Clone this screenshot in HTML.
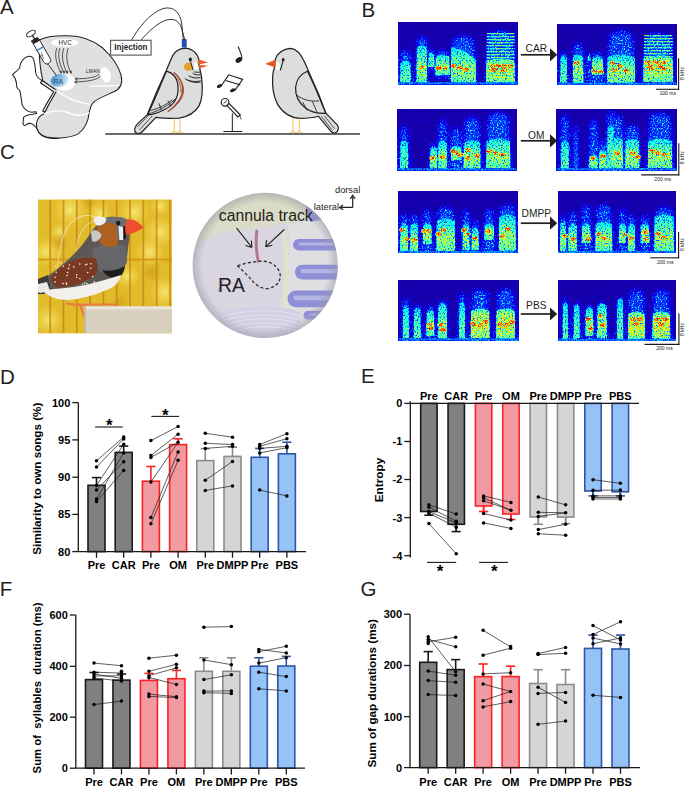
<!DOCTYPE html><html><head><meta charset="utf-8"><style>html,body{margin:0;padding:0;background:#fff;}svg{display:block;}text{font-family:"Liberation Sans",sans-serif;}</style></head><body>
<svg width="685" height="787" viewBox="0 0 685 787">
<defs><filter id="bl05" x="-50%" y="-50%" width="200%" height="200%"><feGaussianBlur stdDeviation="0.6"/></filter><filter id="bl1" x="-50%" y="-50%" width="200%" height="200%"><feGaussianBlur stdDeviation="1.1"/></filter><filter id="bl15" x="-50%" y="-50%" width="200%" height="200%"><feGaussianBlur stdDeviation="1.5"/></filter><filter id="bl2" x="-50%" y="-50%" width="200%" height="200%"><feGaussianBlur stdDeviation="2"/></filter><linearGradient id="gC" x1="0" y1="0" x2="0" y2="1"><stop offset="0" stop-color="#2a8cf0"/><stop offset="0.3" stop-color="#40d8f0"/><stop offset="1" stop-color="#58e8d8"/></linearGradient><linearGradient id="gY" x1="0" y1="0" x2="0" y2="1"><stop offset="0" stop-color="#30a8f0"/><stop offset="0.25" stop-color="#60e0d0"/><stop offset="0.5" stop-color="#c8f060"/><stop offset="0.8" stop-color="#80e8b0"/><stop offset="1" stop-color="#40d0e8"/></linearGradient><linearGradient id="gO" x1="0" y1="0" x2="0" y2="1"><stop offset="0" stop-color="#60d8c8"/><stop offset="0.3" stop-color="#e8e040"/><stop offset="0.6" stop-color="#f0a030"/><stop offset="0.85" stop-color="#c0e060"/><stop offset="1" stop-color="#40c8e8"/></linearGradient><linearGradient id="gH" x1="0" y1="0" x2="0" y2="1"><stop offset="0" stop-color="#50d0f0"/><stop offset="0.3" stop-color="#d8e050"/><stop offset="0.5" stop-color="#f0a030"/><stop offset="0.75" stop-color="#b0e070"/><stop offset="1" stop-color="#50d8e0"/></linearGradient><linearGradient id="iC" x1="0" y1="0" x2="0" y2="1"><stop offset="0" stop-color="#500000"/><stop offset="0.4" stop-color="#6c0000"/><stop offset="1" stop-color="#760000"/></linearGradient><linearGradient id="iY" x1="0" y1="0" x2="0" y2="1"><stop offset="0" stop-color="#550000"/><stop offset="0.35" stop-color="#740000"/><stop offset="0.6" stop-color="#880000"/><stop offset="1" stop-color="#730000"/></linearGradient><linearGradient id="iO" x1="0" y1="0" x2="0" y2="1"><stop offset="0" stop-color="#700000"/><stop offset="0.3" stop-color="#960000"/><stop offset="0.6" stop-color="#9c0000"/><stop offset="1" stop-color="#7a0000"/></linearGradient><linearGradient id="iH" x1="0" y1="0" x2="0" y2="1"><stop offset="0" stop-color="#680000"/><stop offset="0.3" stop-color="#900000"/><stop offset="0.55" stop-color="#9c0000"/><stop offset="1" stop-color="#760000"/></linearGradient></defs>
<g font-family="Liberation Sans, sans-serif">
<text x="0" y="14.2" font-size="20.5" font-weight="normal" text-anchor="start" fill="#231f20" >A</text>
<text x="361.4" y="16.9" font-size="20.5" font-weight="normal" text-anchor="start" fill="#231f20" >B</text>
<text x="0" y="158.6" font-size="20.5" font-weight="normal" text-anchor="start" fill="#231f20" >C</text>
<text x="0" y="383.9" font-size="20.5" font-weight="normal" text-anchor="start" fill="#231f20" >D</text>
<text x="361" y="383.3" font-size="20.5" font-weight="normal" text-anchor="start" fill="#231f20" >E</text>
<text x="-0.3" y="595.8" font-size="20.5" font-weight="normal" text-anchor="start" fill="#231f20" >F</text>
<text x="360.6" y="595.8" font-size="20.5" font-weight="normal" text-anchor="start" fill="#231f20" >G</text>
<g transform="translate(0,25) scale(0.18979)">
</g>
<g transform="translate(5,50) scale(0.11429)" stroke="#231f20" stroke-width="9" fill="#fff" stroke-linejoin="round">
<path d="M180,65 C150,85 132,115 128,158 C112,180 85,195 66,215 C80,232 98,250 100,290 C98,320 105,340 128,352 C140,390 142,440 150,480 C165,515 195,538 230,545 L272,540 L276,556 L240,562 C205,566 175,575 162,590 L158,640 C160,660 172,668 188,652 C205,640 230,640 250,655 C275,675 292,700 300,725 C320,752 360,770 420,775 C470,775 505,760 540,735 L540,560 L500,400 L440,350 L320,265 C290,250 272,225 268,195 C265,150 258,100 245,70 C232,52 205,52 180,65 Z"/>
</g>
<g transform="translate(0,25) scale(0.18979)" stroke="#231f20" stroke-linejoin="round">
<path fill="#e0e0e0" stroke-width="5.6" d="M205,80 C240,62 300,55 360,57 C430,58 490,80 540,120 C590,165 625,215 638,265 C648,305 635,335 600,352 C560,370 520,385 495,405 C478,420 475,445 470,460 C466,510 445,550 410,575 C370,595 300,600 245,590 C210,580 190,555 192,520 C195,495 208,478 232,468 L252,425 C265,395 282,365 297,345 L226,296 C215,250 205,160 205,80 Z"/>
<path fill="#fff" stroke-width="6" d="M224,294 L299,345 L252,428 L237,458 L225,453 L240,425 L283,352 L213,304 Z"/>
<path fill="none" stroke="#fff" stroke-width="7" d="M292,342 C340,380 400,405 470,418"/>
<path fill="none" stroke="#fff" stroke-width="7" d="M232,468 C280,445 330,450 380,470 C410,480 440,478 470,462"/>
<path fill="none" stroke="#fff" stroke-width="6" d="M470,322 C520,320 580,322 630,318"/>
</g>
<ellipse cx="64.9" cy="42.8" rx="13.8" ry="3.9" fill="#fff"/>
<ellipse cx="105.5" cy="74.9" rx="5" ry="7.8" transform="rotate(-20 105.5 74.9)" fill="#fff"/>
<ellipse cx="64.5" cy="82.3" rx="11" ry="8.4" fill="#fff"/>
<defs><linearGradient id="raG" x1="0" y1="0.3" x2="1" y2="0.7"><stop offset="0" stop-color="#3f8cc8"/><stop offset="0.55" stop-color="#8cc0e6"/><stop offset="1" stop-color="#e0eef8"/></linearGradient></defs>
<ellipse cx="59.6" cy="80.3" rx="9" ry="6.4" transform="rotate(-12 59.6 80.3)" fill="url(#raG)"/>
<text x="58.4" y="83.7" font-size="7" font-weight="normal" text-anchor="middle" fill="#2a4a6a" >RA</text>
<text x="65.1" y="45.3" font-size="6.5" font-weight="normal" text-anchor="middle" fill="#231f20" textLength="13.3" lengthAdjust="spacingAndGlyphs" >HVC</text>
<text x="92.9" y="72.8" font-size="4.8" font-weight="normal" text-anchor="middle" fill="#231f20" textLength="13.6" lengthAdjust="spacingAndGlyphs" >LMAN</text>
<path d="M56.8,48.2 C53.8,56 57.2,66 61.2,73" fill="none" stroke="#231f20" stroke-width="0.75"/>
<path d="M59.6,71 L61.2,73.3 L61.800000000000004,70.6" fill="none" stroke="#231f20" stroke-width="0.7"/>
<path d="M59.9,48.2 C56.9,56 60.2,66 64.2,73" fill="none" stroke="#231f20" stroke-width="0.75"/>
<path d="M62.6,71 L64.2,73.3 L64.8,70.6" fill="none" stroke="#231f20" stroke-width="0.7"/>
<path d="M63.8,48.2 C60.8,56 63.3,66 67.3,73" fill="none" stroke="#231f20" stroke-width="0.75"/>
<path d="M65.7,71 L67.3,73.3 L67.89999999999999,70.6" fill="none" stroke="#231f20" stroke-width="0.7"/>
<path d="M68.2,48.2 C65.2,56 67.2,66 71.2,73" fill="none" stroke="#231f20" stroke-width="0.75"/>
<path d="M69.60000000000001,71 L71.2,73.3 L71.8,70.6" fill="none" stroke="#231f20" stroke-width="0.7"/>
<path d="M99.3,74.3 C95,77.5 88,78.6 75.3,78.9 M100.3,76.5 C96,80 88,81.6 74.7,82" fill="none" stroke="#231f20" stroke-width="0.75"/>
<path d="M77.6,77.6 L75.2,78.9 L77.6,80.2 M77,80.7 L74.6,82 L77,83.3" fill="none" stroke="#231f20" stroke-width="0.7"/>
<g stroke="#231f20" stroke-width="0.95" stroke-linejoin="round" stroke-linecap="round">
<ellipse cx="31" cy="33.5" rx="4.8" ry="2.4" transform="rotate(-30 31 33.5)" fill="#fff"/>
<path d="M32.6,35.6 L34.6,39" stroke-width="1.4"/>
<path d="M31.6,40.8 L37.4,37.4 L39.6,40.4 L33.8,43.8 Z" fill="#231f20"/>
<path d="M33.6,43.6 L39.6,40.2 L50.6,59.2 C51,61.5 49.5,63.5 47.5,64 C45.5,64.2 44.2,63 43.4,61.5 Z" fill="#fff"/>
<path d="M36.6,50.6 L42.6,47.3" stroke="#3c8ed6" stroke-width="1.6"/>
<path d="M47.6,64 L49,65.5 L56.2,75.2" fill="none"/>
<path d="M41.5,53 L43,57.5 M42.6,55 L41,56" stroke-width="0.5" fill="none"/>
<circle cx="43.5" cy="58.2" r="0.55" fill="#3c8ed6" stroke="none"/>
</g>
<g transform="translate(130,40) scale(0.12195)" stroke="#231f20" stroke-width="10" stroke-linejoin="round" stroke-linecap="round">
<path fill="#dcdddd" d="M565,165 C555,110 510,68 450,66 C395,68 352,108 332,168 C300,250 252,350 212,440 C188,500 162,560 142,612 L60,690 C35,715 30,748 52,764 C72,774 90,762 102,750 L212,634 C262,642 332,646 402,640 C472,630 532,596 566,540 C596,480 596,380 586,300 C581,262 571,232 566,206 Z"/>
<path fill="none" stroke-width="6" d="M150,620 L62,712 M180,626 L80,735"/>
<path fill="#dcdddd" d="M300,255 C342,266 382,302 392,362 C400,422 386,482 352,522 C312,562 252,592 182,610 L145,614 C172,552 200,492 230,420 C255,360 278,305 300,255 Z"/>
<path fill="none" stroke-width="7" d="M152,606 C220,585 300,550 368,488 M172,578 C240,560 300,530 345,492 M238,522 C246,540 252,556 256,572 M312,500 C320,515 326,528 330,540"/>
<path fill="none" stroke="#a5442e" stroke-width="11" d="M362,268 C402,302 432,342 432,402 C432,462 402,522 312,586"/>
<path fill="none" stroke="#a5442e" stroke-width="8" d="M385,292 C418,330 440,370 438,420 C434,470 410,510 350,560"/>
<path fill="none" stroke="#a5442e" stroke-width="7" d="M372,300 C405,335 420,380 418,425"/>
<path fill="#fff" stroke="none" d="M522,178 C545,182 560,200 563,238 L528,242 Z"/>
<ellipse cx="478" cy="220" rx="37" ry="33" fill="#e8a126" stroke="none"/>
<ellipse cx="495" cy="160" rx="13" ry="16" fill="#231f20" stroke="none"/>
<path fill="none" stroke-width="8" d="M497,178 L516,245"/>
<path fill="none" stroke-width="8" d="M452,318 C485,338 520,346 576,336 M470,328 C500,346 540,352 576,345 M484,296 C510,310 540,316 576,308 M516,274 C535,286 555,290 577,284 M530,262 C548,266 562,266 577,262"/>
<path fill="#f05a22" stroke="none" d="M560,158 L640,184 L562,200 Z M563,204 L642,210 L566,234 Z"/>
<path fill="none" stroke="#e8b030" stroke-width="7" d="M364,642 L362,750 M410,642 L410,750 M338,762 L362,750 L386,762 M388,762 L410,750 L434,762"/>
</g>
<rect x="181.8" y="39.2" width="4.9" height="8.3" fill="#2350b4"/>
<path fill="none" stroke="#231f20" stroke-width="0.9" d="M131.4,40.5 C137,30 150,12 164,8.3 C174,6.5 180,12 181.8,24 L183.3,40"/>
<path fill="none" stroke="#231f20" stroke-width="0.9" d="M140.6,40.5 C148,32 158,22 168,19.6 C176,18.5 180,22 182,30 L184.9,40"/>
<rect x="110.6" y="40.3" width="40.5" height="14.8" fill="#fff" stroke="#555" stroke-width="1.1"/>
<text x="130.9" y="50.1" font-size="8.3" font-weight="bold" text-anchor="middle" fill="#231f20" textLength="33.4" lengthAdjust="spacingAndGlyphs" >Injection</text>
<g transform="translate(260,40) scale(0.12195)" stroke="#231f20" stroke-width="10" stroke-linejoin="round" stroke-linecap="round">
<path fill="#dcdddd" d="M125,160 C140,110 190,72 250,68 C300,70 340,120 370,190 C400,262 440,352 480,442 C505,505 525,560 540,600 L635,698 C650,718 642,752 618,762 C602,768 592,760 580,748 L478,625 C440,636 380,642 330,642 C260,640 190,600 145,530 C110,460 98,380 104,300 C106,270 110,245 118,230 Z"/>
<path fill="none" stroke-width="6" d="M530,625 L610,725 M505,628 L592,740"/>
<path fill="#dcdddd" d="M388,256 C340,275 300,320 292,385 C288,450 315,510 370,555 C410,585 460,605 540,602 C515,545 490,480 465,420 C440,362 414,305 388,256 Z"/>
<path fill="none" stroke-width="7" d="M302,452 C350,492 410,505 480,500 M352,512 C368,540 378,560 386,575 M430,505 C445,540 460,570 468,595"/>
<path fill="#fff" stroke="none" d="M128,178 C140,176 155,182 162,200 L160,245 L128,242 Z"/>
<ellipse cx="190" cy="163" rx="12" ry="15" fill="#231f20" stroke="none"/>
<path fill="none" stroke-width="9" d="M186,182 L168,246"/>
<path fill="#e85a22" stroke="none" d="M44,195 L127,162 L127,228 Z"/>
<path fill="none" stroke="#c04010" stroke-width="4" d="M60,198 L125,200"/>
<path fill="none" stroke="#e8b030" stroke-width="7" d="M270,642 L270,750 M322,642 L322,750 M246,762 L270,750 L294,762 M298,762 L322,750 L346,762"/>
</g>
<line x1="105.3" y1="134" x2="360" y2="134" stroke="#3a3a3a" stroke-width="1.4"/>
<g transform="translate(205,40) scale(0.12711)" stroke="#231f20" stroke-width="9" stroke-linecap="round" fill="#231f20">
<ellipse cx="266" cy="158" rx="28" ry="19" transform="rotate(-35 266 158)" stroke="none"/>
<path fill="none" d="M262,55 C272,85 292,110 290,148"/>
<ellipse cx="114" cy="362" rx="22" ry="13" transform="rotate(-25 114 362)" stroke="none"/>
<ellipse cx="218" cy="396" rx="22" ry="13" transform="rotate(-25 218 396)" stroke="none"/>
<path fill="none" d="M130,358 L186,274 L296,310 L238,392 M168,320 L274,352"/>
<circle cx="158" cy="490" r="30" fill="#fff"/>
<path fill="#fff" d="M172,515 L258,605 L278,590 L190,500 Z"/>
<path fill="none" stroke-width="7" d="M150,496 L170,478"/>
<path fill="none" stroke-width="6" d="M272,595 C290,605 270,615 285,625"/>
<path fill="none" stroke-width="8" d="M215,580 L215,720 M148,720 L290,720"/>
</g>
<filter id="sf0" filterUnits="userSpaceOnUse" x="398.7" y="22.8" width="118.80000000000001" height="61.5" color-interpolation-filters="sRGB"><feGaussianBlur in="SourceGraphic" stdDeviation="0.75" result="s"/><feTurbulence type="fractalNoise" baseFrequency="0.75 0.6" numOctaves="2" seed="3" result="n"/><feColorMatrix in="n" type="matrix" values="1 0 0 0 0 1 0 0 0 0 1 0 0 0 0 0 0 0 0 1" result="ng"/><feColorMatrix in="n" type="matrix" values="0 1 0 0 0 0 1 0 0 0 0 1 0 0 0 0 0 0 0 1" result="ng2"/><feComponentTransfer in="ng" result="m"><feFuncR type="table" tableValues="0.28 0.28 0.3 0.42 0.66 0.86 0.95 1 1 1 1"/><feFuncG type="table" tableValues="0.28 0.28 0.3 0.42 0.66 0.86 0.95 1 1 1 1"/><feFuncB type="table" tableValues="0.28 0.28 0.3 0.42 0.66 0.86 0.95 1 1 1 1"/></feComponentTransfer><feComponentTransfer in="ng2" result="m2"><feFuncR type="table" tableValues="0 0 0 0 0 0.05 0.35 0.8 1 1 1"/><feFuncG type="table" tableValues="0 0 0 0 0 0.05 0.35 0.8 1 1 1"/><feFuncB type="table" tableValues="0 0 0 0 0 0.05 0.35 0.8 1 1 1"/></feComponentTransfer><feColorMatrix in="s" type="matrix" values="1 0 0 0 0 1 0 0 0 0 1 0 0 0 0 0 0 0 0 1" result="sb"/><feColorMatrix in="s" type="matrix" values="0 1 0 0 0 0 1 0 0 0 0 1 0 0 0 0 0 0 0 1" result="sf"/><feComposite in="sb" in2="m" operator="arithmetic" k1="1.08" k2="0" k3="0.03" k4="0" result="vb"/><feComposite in="sf" in2="m2" operator="arithmetic" k1="0.75" k2="0.42" k3="0.08" k4="0" result="vf"/><feComposite in="vb" in2="vf" operator="arithmetic" k1="0" k2="1" k3="1" k4="0" result="v"/><feComponentTransfer in="v"><feFuncR type="table" tableValues="0.1 0.05 0 0 0.5 1 1 1 0.55"/><feFuncG type="table" tableValues="0 0 0.5 1 1 1 0.5 0 0"/><feFuncB type="table" tableValues="0.56 0.95 1 1 0.5 0 0 0 0"/><feFuncA type="linear" slope="0" intercept="1"/></feComponentTransfer></filter>
<g filter="url(#sf0)">
<rect x="398.7" y="22.8" width="118.80000000000001" height="61.5" fill="#000"/>
<path d="M398.6,84.3 L400.8,54 Q405.5,46 410.2,54 L412.4,84.3 Z" fill="#004c00" filter="url(#bl2)"/>
<path d="M414.9,84.3 L417.1,40 Q421.79999999999995,32 426.5,40 L428.7,84.3 Z" fill="#004c00" filter="url(#bl2)"/>
<path d="M426.7,70 L428.4,53 Q431.29999999999995,45 434.2,53 L435.9,70 Z" fill="#004c00" filter="url(#bl2)"/>
<path d="M433.9,78 L436.4,54 Q442.6,46 448.8,54 L451.3,78 Z" fill="#004c00" filter="url(#bl2)"/>
<path d="M449.3,84.3 L452.9,40 Q463.45000000000005,32 474.0,40 L477.6,84.3 Z" fill="#004c00" filter="url(#bl2)"/>
<path d="M484.6,84.3 L488.6,35 Q500.55,27 512.5,35 L516.5,84.3 Z" fill="#004c00" filter="url(#bl2)"/>
<path d="M400.8,64 Q405.5,53 410.2,64 Z" fill="#300000" filter="url(#bl1)"/>
<path d="M400.20000000000005,83.5 L400.5,63 Q405.5,58.0 410.5,63 L410.79999999999995,83.5 Z" fill="url(#iC)"/>
<path d="M417.09999999999997,49 Q421.79999999999995,38 426.5,49 Z" fill="#300000" filter="url(#bl1)"/>
<path d="M416.5,83.5 L416.79999999999995,48 Q421.79999999999995,43.0 426.8,48 L427.09999999999997,83.5 Z" fill="url(#iY)"/>
<ellipse cx="422" cy="67" rx="3" ry="1.9" fill="#c80000" filter="url(#bl05)"/>
<path d="M428.9,56 Q431.29999999999995,45 433.7,56 Z" fill="#300000" filter="url(#bl1)"/>
<path d="M428.3,67 L428.59999999999997,55 Q431.29999999999995,50.0 434.0,55 L434.29999999999995,67 Z" fill="url(#iC)"/>
<path d="M436.09999999999997,58 Q442.6,47 449.1,58 Z" fill="#300000" filter="url(#bl1)"/>
<path d="M435.5,75 L435.79999999999995,57 Q442.6,52.0 449.40000000000003,57 L449.7,75 Z" fill="url(#iY)"/>
<ellipse cx="438.5" cy="68" rx="3" ry="1.9" fill="#c80000" filter="url(#bl05)"/>
<ellipse cx="445" cy="68" rx="3" ry="1.9" fill="#c80000" filter="url(#bl05)"/>
<path d="M451.5,48 Q463.45000000000005,37 475.40000000000003,61 Z" fill="#300000" filter="url(#bl1)"/>
<path d="M450.90000000000003,83 L451.2,47 Q463.45000000000005,48.5 475.70000000000005,60 L476.0,83 Z" fill="url(#iY)"/>
<ellipse cx="454" cy="66" rx="3" ry="1.9" fill="#c80000" filter="url(#bl05)"/>
<ellipse cx="460" cy="68" rx="3" ry="1.9" fill="#c80000" filter="url(#bl05)"/>
<ellipse cx="466" cy="70" rx="3" ry="1.9" fill="#c80000" filter="url(#bl05)"/>
<path d="M486.8,62 Q500.55,51 514.3,62 Z" fill="#300000" filter="url(#bl1)"/>
<path d="M486.20000000000005,83.5 L486.5,61 Q500.55,56.0 514.6,61 L514.9,83.5 Z" fill="url(#iH)"/>
<rect x="486.6" y="33.0" width="27.899999999999977" height="1.3" fill="#7a0000"/>
<rect x="486.6" y="36.0" width="27.899999999999977" height="1.3" fill="#7a0000"/>
<rect x="486.6" y="39.0" width="27.899999999999977" height="1.3" fill="#7a0000"/>
<rect x="486.6" y="42.0" width="27.899999999999977" height="1.3" fill="#7a0000"/>
<rect x="486.6" y="45.0" width="27.899999999999977" height="1.3" fill="#7a0000"/>
<rect x="486.6" y="48.0" width="27.899999999999977" height="1.3" fill="#7a0000"/>
<rect x="486.6" y="51.0" width="27.899999999999977" height="1.3" fill="#7a0000"/>
<rect x="486.6" y="54.0" width="27.899999999999977" height="1.3" fill="#7a0000"/>
<rect x="486.6" y="57.0" width="27.899999999999977" height="1.3" fill="#7a0000"/>
<rect x="486.6" y="60.0" width="27.899999999999977" height="1.3" fill="#7a0000"/>
<rect x="486.6" y="63.0" width="27.899999999999977" height="1.3" fill="#7a0000"/>
<rect x="486.6" y="66.0" width="27.899999999999977" height="1.3" fill="#7a0000"/>
<rect x="486.6" y="69.0" width="27.899999999999977" height="1.3" fill="#7a0000"/>
<rect x="486.6" y="72.0" width="27.899999999999977" height="1.3" fill="#7a0000"/>
<rect x="486.6" y="75.0" width="27.899999999999977" height="1.3" fill="#7a0000"/>
<rect x="486.6" y="78.0" width="27.899999999999977" height="1.3" fill="#7a0000"/>
<rect x="486.6" y="81.0" width="27.899999999999977" height="1.3" fill="#7a0000"/>
<ellipse cx="492" cy="66" rx="3" ry="1.9" fill="#c80000" filter="url(#bl05)"/>
<ellipse cx="498" cy="66" rx="3" ry="1.9" fill="#c80000" filter="url(#bl05)"/>
<ellipse cx="504" cy="66" rx="3" ry="1.9" fill="#c80000" filter="url(#bl05)"/>
<ellipse cx="510" cy="66" rx="3" ry="1.9" fill="#c80000" filter="url(#bl05)"/>
<ellipse cx="494" cy="70" rx="3" ry="1.9" fill="#c80000" filter="url(#bl05)"/>
<ellipse cx="504" cy="70" rx="3" ry="1.9" fill="#c80000" filter="url(#bl05)"/>
<rect x="398.7" y="82.1" width="118.80000000000001" height="2.2" fill="#3a0000"/>
</g>
<filter id="sf1" filterUnits="userSpaceOnUse" x="557.7" y="24" width="118.59999999999991" height="60.8" color-interpolation-filters="sRGB"><feGaussianBlur in="SourceGraphic" stdDeviation="0.75" result="s"/><feTurbulence type="fractalNoise" baseFrequency="0.75 0.6" numOctaves="2" seed="10" result="n"/><feColorMatrix in="n" type="matrix" values="1 0 0 0 0 1 0 0 0 0 1 0 0 0 0 0 0 0 0 1" result="ng"/><feColorMatrix in="n" type="matrix" values="0 1 0 0 0 0 1 0 0 0 0 1 0 0 0 0 0 0 0 1" result="ng2"/><feComponentTransfer in="ng" result="m"><feFuncR type="table" tableValues="0.28 0.28 0.3 0.42 0.66 0.86 0.95 1 1 1 1"/><feFuncG type="table" tableValues="0.28 0.28 0.3 0.42 0.66 0.86 0.95 1 1 1 1"/><feFuncB type="table" tableValues="0.28 0.28 0.3 0.42 0.66 0.86 0.95 1 1 1 1"/></feComponentTransfer><feComponentTransfer in="ng2" result="m2"><feFuncR type="table" tableValues="0 0 0 0 0 0.05 0.35 0.8 1 1 1"/><feFuncG type="table" tableValues="0 0 0 0 0 0.05 0.35 0.8 1 1 1"/><feFuncB type="table" tableValues="0 0 0 0 0 0.05 0.35 0.8 1 1 1"/></feComponentTransfer><feColorMatrix in="s" type="matrix" values="1 0 0 0 0 1 0 0 0 0 1 0 0 0 0 0 0 0 0 1" result="sb"/><feColorMatrix in="s" type="matrix" values="0 1 0 0 0 0 1 0 0 0 0 1 0 0 0 0 0 0 0 1" result="sf"/><feComposite in="sb" in2="m" operator="arithmetic" k1="1.08" k2="0" k3="0.03" k4="0" result="vb"/><feComposite in="sf" in2="m2" operator="arithmetic" k1="0.75" k2="0.42" k3="0.08" k4="0" result="vf"/><feComposite in="vb" in2="vf" operator="arithmetic" k1="0" k2="1" k3="1" k4="0" result="v"/><feComponentTransfer in="v"><feFuncR type="table" tableValues="0.1 0.05 0 0 0.5 1 1 1 0.55"/><feFuncG type="table" tableValues="0 0 0.5 1 1 1 0.5 0 0"/><feFuncB type="table" tableValues="0.56 0.95 1 1 0.5 0 0 0 0"/><feFuncA type="linear" slope="0" intercept="1"/></feComponentTransfer></filter>
<g filter="url(#sf1)">
<rect x="557.7" y="24" width="118.59999999999991" height="60.8" fill="#000"/>
<path d="M558.5,84.8 L560.3,56 Q563.6,48 566.9,56 L568.7,84.8 Z" fill="#004c00" filter="url(#bl2)"/>
<path d="M571.2,84.8 L573.4,47 Q578.1,39 582.8,47 L585,84.8 Z" fill="#004c00" filter="url(#bl2)"/>
<path d="M585.9,84.8 L587.3,56 Q589.05,48 590.8,56 L592.2,84.8 Z" fill="#004c00" filter="url(#bl2)"/>
<path d="M590.2,84.8 L592.5,56 Q597.55,48 602.6,56 L604.9,84.8 Z" fill="#004c00" filter="url(#bl2)"/>
<path d="M605.6,84.8 L609.5,35 Q621.1,27 632.7,35 L636.6,84.8 Z" fill="#004c00" filter="url(#bl2)"/>
<path d="M641.8,84.8 L645.9,37 Q658.2,29 670.5,37 L674.6,84.8 Z" fill="#004c00" filter="url(#bl2)"/>
<path d="M560.7,59 Q563.6,48 566.5,59 Z" fill="#300000" filter="url(#bl1)"/>
<path d="M560.1,84 L560.4,58 Q563.6,53.0 566.8000000000001,58 L567.1,84 Z" fill="url(#iC)"/>
<path d="M573.4000000000001,58 Q578.1,47 582.8,58 Z" fill="#300000" filter="url(#bl1)"/>
<path d="M572.8000000000001,84 L573.1,57 Q578.1,52.0 583.1,57 L583.4,84 Z" fill="url(#iY)"/>
<ellipse cx="577" cy="63" rx="3" ry="1.9" fill="#c80000" filter="url(#bl05)"/>
<path d="M588.1,58 Q589.05,47 590.0,58 Z" fill="#300000" filter="url(#bl1)"/>
<path d="M587.5,61 L587.8,57 Q589.05,52.0 590.3000000000001,57 L590.6,61 Z" fill="url(#iC)"/>
<path d="M592.4000000000001,60 Q597.55,49 602.6999999999999,60 Z" fill="#300000" filter="url(#bl1)"/>
<path d="M591.8000000000001,75 L592.1,59 Q597.55,54.0 603.0,59 L603.3,75 Z" fill="url(#iY)"/>
<ellipse cx="594" cy="71" rx="3" ry="1.9" fill="#c80000" filter="url(#bl05)"/>
<ellipse cx="601" cy="72" rx="3" ry="1.9" fill="#c80000" filter="url(#bl05)"/>
<path d="M607.8000000000001,58 Q621.1,47 634.4,58 Z" fill="#300000" filter="url(#bl1)"/>
<path d="M607.2,84 L607.5,57 Q621.1,52.0 634.7,57 L635.0,84 Z" fill="url(#iY)"/>
<ellipse cx="613" cy="63" rx="3" ry="1.9" fill="#c80000" filter="url(#bl05)"/>
<ellipse cx="614" cy="70" rx="3" ry="1.9" fill="#c80000" filter="url(#bl05)"/>
<ellipse cx="620" cy="66" rx="3" ry="1.9" fill="#c80000" filter="url(#bl05)"/>
<ellipse cx="626" cy="70" rx="3" ry="1.9" fill="#c80000" filter="url(#bl05)"/>
<path d="M644.0,59 Q658.2,48 672.4,59 Z" fill="#300000" filter="url(#bl1)"/>
<path d="M643.4,82 L643.6999999999999,58 Q658.2,53.0 672.7,58 L673.0,82 Z" fill="url(#iH)"/>
<rect x="643.8" y="35.0" width="28.800000000000068" height="1.3" fill="#7a0000"/>
<rect x="643.8" y="38.0" width="28.800000000000068" height="1.3" fill="#7a0000"/>
<rect x="643.8" y="41.0" width="28.800000000000068" height="1.3" fill="#7a0000"/>
<rect x="643.8" y="44.0" width="28.800000000000068" height="1.3" fill="#7a0000"/>
<rect x="643.8" y="47.0" width="28.800000000000068" height="1.3" fill="#7a0000"/>
<rect x="643.8" y="50.0" width="28.800000000000068" height="1.3" fill="#7a0000"/>
<rect x="643.8" y="53.0" width="28.800000000000068" height="1.3" fill="#7a0000"/>
<rect x="643.8" y="56.0" width="28.800000000000068" height="1.3" fill="#7a0000"/>
<rect x="643.8" y="59.0" width="28.800000000000068" height="1.3" fill="#7a0000"/>
<rect x="643.8" y="62.0" width="28.800000000000068" height="1.3" fill="#7a0000"/>
<rect x="643.8" y="65.0" width="28.800000000000068" height="1.3" fill="#7a0000"/>
<rect x="643.8" y="68.0" width="28.800000000000068" height="1.3" fill="#7a0000"/>
<rect x="643.8" y="71.0" width="28.800000000000068" height="1.3" fill="#7a0000"/>
<rect x="643.8" y="74.0" width="28.800000000000068" height="1.3" fill="#7a0000"/>
<rect x="643.8" y="77.0" width="28.800000000000068" height="1.3" fill="#7a0000"/>
<rect x="643.8" y="80.0" width="28.800000000000068" height="1.3" fill="#7a0000"/>
<ellipse cx="648" cy="62" rx="3" ry="1.9" fill="#c80000" filter="url(#bl05)"/>
<ellipse cx="656" cy="62" rx="3" ry="1.9" fill="#c80000" filter="url(#bl05)"/>
<ellipse cx="664" cy="62" rx="3" ry="1.9" fill="#c80000" filter="url(#bl05)"/>
<ellipse cx="650" cy="66" rx="3" ry="1.9" fill="#c80000" filter="url(#bl05)"/>
<ellipse cx="660" cy="66" rx="3" ry="1.9" fill="#c80000" filter="url(#bl05)"/>
<ellipse cx="652" cy="69" rx="3" ry="1.9" fill="#c80000" filter="url(#bl05)"/>
<ellipse cx="664" cy="69" rx="3" ry="1.9" fill="#c80000" filter="url(#bl05)"/>
<rect x="557.7" y="82.6" width="118.59999999999991" height="2.2" fill="#3a0000"/>
</g>
<filter id="sf2" filterUnits="userSpaceOnUse" x="397.8" y="109.7" width="119.09999999999997" height="60.60000000000001" color-interpolation-filters="sRGB"><feGaussianBlur in="SourceGraphic" stdDeviation="0.75" result="s"/><feTurbulence type="fractalNoise" baseFrequency="0.75 0.6" numOctaves="2" seed="17" result="n"/><feColorMatrix in="n" type="matrix" values="1 0 0 0 0 1 0 0 0 0 1 0 0 0 0 0 0 0 0 1" result="ng"/><feColorMatrix in="n" type="matrix" values="0 1 0 0 0 0 1 0 0 0 0 1 0 0 0 0 0 0 0 1" result="ng2"/><feComponentTransfer in="ng" result="m"><feFuncR type="table" tableValues="0.28 0.28 0.3 0.42 0.66 0.86 0.95 1 1 1 1"/><feFuncG type="table" tableValues="0.28 0.28 0.3 0.42 0.66 0.86 0.95 1 1 1 1"/><feFuncB type="table" tableValues="0.28 0.28 0.3 0.42 0.66 0.86 0.95 1 1 1 1"/></feComponentTransfer><feComponentTransfer in="ng2" result="m2"><feFuncR type="table" tableValues="0 0 0 0 0 0.05 0.35 0.8 1 1 1"/><feFuncG type="table" tableValues="0 0 0 0 0 0.05 0.35 0.8 1 1 1"/><feFuncB type="table" tableValues="0 0 0 0 0 0.05 0.35 0.8 1 1 1"/></feComponentTransfer><feColorMatrix in="s" type="matrix" values="1 0 0 0 0 1 0 0 0 0 1 0 0 0 0 0 0 0 0 1" result="sb"/><feColorMatrix in="s" type="matrix" values="0 1 0 0 0 0 1 0 0 0 0 1 0 0 0 0 0 0 0 1" result="sf"/><feComposite in="sb" in2="m" operator="arithmetic" k1="1.08" k2="0" k3="0.03" k4="0" result="vb"/><feComposite in="sf" in2="m2" operator="arithmetic" k1="0.75" k2="0.42" k3="0.08" k4="0" result="vf"/><feComposite in="vb" in2="vf" operator="arithmetic" k1="0" k2="1" k3="1" k4="0" result="v"/><feComponentTransfer in="v"><feFuncR type="table" tableValues="0.1 0.05 0 0 0.5 1 1 1 0.55"/><feFuncG type="table" tableValues="0 0 0.5 1 1 1 0.5 0 0"/><feFuncB type="table" tableValues="0.56 0.95 1 1 0.5 0 0 0 0"/><feFuncA type="linear" slope="0" intercept="1"/></feComponentTransfer></filter>
<g filter="url(#sf2)">
<rect x="397.8" y="109.7" width="119.09999999999997" height="60.60000000000001" fill="#000"/>
<path d="M398.6,170.3 L400.5,130 Q404.15,122 407.8,130 L409.7,170.3 Z" fill="#004c00" filter="url(#bl2)"/>
<path d="M428.5,170.3 L430.3,147 Q433.55,139 436.8,147 L438.6,170.3 Z" fill="#004c00" filter="url(#bl2)"/>
<path d="M436.6,170.3 L438.6,124 Q442.6,116 446.6,124 L448.6,170.3 Z" fill="#004c00" filter="url(#bl2)"/>
<path d="M449.3,170.3 L451.5,132 Q456.20000000000005,124 460.9,132 L463.1,170.3 Z" fill="#004c00" filter="url(#bl2)"/>
<path d="M462,170.3 L464.8,121 Q472.0,113 479.2,121 L482,170.3 Z" fill="#004c00" filter="url(#bl2)"/>
<path d="M484.6,170.3 L488.1,117 Q498.3,109 508.5,117 L512,170.3 Z" fill="#004c00" filter="url(#bl2)"/>
<path d="M400.8,144 Q404.15,133 407.5,144 Z" fill="#300000" filter="url(#bl1)"/>
<path d="M400.20000000000005,169.5 L400.5,143 Q404.15,138.0 407.8,143 L408.09999999999997,169.5 Z" fill="url(#iC)"/>
<path d="M430.7,150 Q433.55,139 436.40000000000003,150 Z" fill="#300000" filter="url(#bl1)"/>
<path d="M430.1,169.5 L430.4,149 Q433.55,144.0 436.70000000000005,149 L437.0,169.5 Z" fill="url(#iY)"/>
<ellipse cx="432" cy="158" rx="3" ry="1.9" fill="#c80000" filter="url(#bl05)"/>
<path d="M438.8,144 Q442.6,133 446.40000000000003,144 Z" fill="#300000" filter="url(#bl1)"/>
<path d="M438.20000000000005,169.5 L438.5,143 Q442.6,138.0 446.70000000000005,143 L447.0,169.5 Z" fill="url(#iY)"/>
<ellipse cx="442" cy="157" rx="3" ry="1.9" fill="#c80000" filter="url(#bl05)"/>
<path d="M451.5,149 Q456.20000000000005,138 460.90000000000003,149 Z" fill="#300000" filter="url(#bl1)"/>
<path d="M450.90000000000003,160 L451.2,148 Q456.20000000000005,143.0 461.20000000000005,148 L461.5,160 Z" fill="url(#iY)"/>
<ellipse cx="453" cy="151" rx="3" ry="1.9" fill="#c80000" filter="url(#bl05)"/>
<ellipse cx="457" cy="153" rx="3" ry="1.9" fill="#c80000" filter="url(#bl05)"/>
<ellipse cx="461" cy="155" rx="3" ry="1.9" fill="#c80000" filter="url(#bl05)"/>
<path d="M464.2,144 Q472.0,133 479.8,144 Z" fill="#300000" filter="url(#bl1)"/>
<path d="M463.6,169.5 L463.9,143 Q472.0,138.0 480.1,143 L480.4,169.5 Z" fill="url(#iY)"/>
<ellipse cx="468" cy="150" rx="3" ry="1.9" fill="#c80000" filter="url(#bl05)"/>
<ellipse cx="478" cy="156" rx="3" ry="1.9" fill="#c80000" filter="url(#bl05)"/>
<ellipse cx="468" cy="158" rx="3" ry="1.9" fill="#c80000" filter="url(#bl05)"/>
<path d="M486.8,142 Q498.3,131 509.8,142 Z" fill="#300000" filter="url(#bl1)"/>
<path d="M486.20000000000005,168 L486.5,141 Q498.3,136.0 510.1,141 L510.4,168 Z" fill="url(#iY)"/>
<ellipse cx="489" cy="151" rx="3" ry="1.9" fill="#c80000" filter="url(#bl05)"/>
<ellipse cx="495" cy="153" rx="3" ry="1.9" fill="#c80000" filter="url(#bl05)"/>
<ellipse cx="502" cy="155" rx="3" ry="1.9" fill="#c80000" filter="url(#bl05)"/>
<rect x="397.8" y="168.10000000000002" width="119.09999999999997" height="2.2" fill="#3a0000"/>
</g>
<filter id="sf3" filterUnits="userSpaceOnUse" x="556.8" y="109" width="119.80000000000007" height="61.30000000000001" color-interpolation-filters="sRGB"><feGaussianBlur in="SourceGraphic" stdDeviation="0.75" result="s"/><feTurbulence type="fractalNoise" baseFrequency="0.75 0.6" numOctaves="2" seed="24" result="n"/><feColorMatrix in="n" type="matrix" values="1 0 0 0 0 1 0 0 0 0 1 0 0 0 0 0 0 0 0 1" result="ng"/><feColorMatrix in="n" type="matrix" values="0 1 0 0 0 0 1 0 0 0 0 1 0 0 0 0 0 0 0 1" result="ng2"/><feComponentTransfer in="ng" result="m"><feFuncR type="table" tableValues="0.28 0.28 0.3 0.42 0.66 0.86 0.95 1 1 1 1"/><feFuncG type="table" tableValues="0.28 0.28 0.3 0.42 0.66 0.86 0.95 1 1 1 1"/><feFuncB type="table" tableValues="0.28 0.28 0.3 0.42 0.66 0.86 0.95 1 1 1 1"/></feComponentTransfer><feComponentTransfer in="ng2" result="m2"><feFuncR type="table" tableValues="0 0 0 0 0 0.05 0.35 0.8 1 1 1"/><feFuncG type="table" tableValues="0 0 0 0 0 0.05 0.35 0.8 1 1 1"/><feFuncB type="table" tableValues="0 0 0 0 0 0.05 0.35 0.8 1 1 1"/></feComponentTransfer><feColorMatrix in="s" type="matrix" values="1 0 0 0 0 1 0 0 0 0 1 0 0 0 0 0 0 0 0 1" result="sb"/><feColorMatrix in="s" type="matrix" values="0 1 0 0 0 0 1 0 0 0 0 1 0 0 0 0 0 0 0 1" result="sf"/><feComposite in="sb" in2="m" operator="arithmetic" k1="1.08" k2="0" k3="0.03" k4="0" result="vb"/><feComposite in="sf" in2="m2" operator="arithmetic" k1="0.75" k2="0.42" k3="0.08" k4="0" result="vf"/><feComposite in="vb" in2="vf" operator="arithmetic" k1="0" k2="1" k3="1" k4="0" result="v"/><feComponentTransfer in="v"><feFuncR type="table" tableValues="0.1 0.05 0 0 0.5 1 1 1 0.55"/><feFuncG type="table" tableValues="0 0 0.5 1 1 1 0.5 0 0"/><feFuncB type="table" tableValues="0.56 0.95 1 1 0.5 0 0 0 0"/><feFuncA type="linear" slope="0" intercept="1"/></feComponentTransfer></filter>
<g filter="url(#sf3)">
<rect x="556.8" y="109" width="119.80000000000007" height="61.30000000000001" fill="#000"/>
<path d="M559.4,170.3 L561.3,119 Q564.95,111 568.6,119 L570.5,170.3 Z" fill="#004c00" filter="url(#bl2)"/>
<path d="M573,170.3 L574.4,129 Q576.0,121 577.6,129 L579,170.3 Z" fill="#004c00" filter="url(#bl2)"/>
<path d="M587.5,170.3 L589.5,124 Q593.45,116 597.4,124 L599.4,170.3 Z" fill="#004c00" filter="url(#bl2)"/>
<path d="M597.4,170.3 L599.3,144 Q602.95,136 606.6,144 L608.5,170.3 Z" fill="#004c00" filter="url(#bl2)"/>
<path d="M605.6,170.3 L607.4,115 Q610.6,107 613.8,115 L615.6,170.3 Z" fill="#004c00" filter="url(#bl2)"/>
<path d="M610,170.3 L612.3,119 Q617.4,111 622.5,119 L624.8,170.3 Z" fill="#004c00" filter="url(#bl2)"/>
<path d="M623.7,170.3 L626.2,129 Q632.35,121 638.5,129 L641,170.3 Z" fill="#004c00" filter="url(#bl2)"/>
<path d="M646.3,170.3 L649.8,117 Q660.0,109 670.2,117 L673.7,170.3 Z" fill="#004c00" filter="url(#bl2)"/>
<path d="M561.6,144 Q564.95,133 568.3,144 Z" fill="#300000" filter="url(#bl1)"/>
<path d="M561.0,169.5 L561.3,143 Q564.95,138.0 568.6,143 L568.9,169.5 Z" fill="url(#iC)"/>
<path d="M575,170.3 L575.5,131 L576.5,131 L577,170.3 Z" fill="#400000" filter="url(#bl1)"/>
<path d="M589.7,158 Q593.45,147 597.1999999999999,158 Z" fill="#300000" filter="url(#bl1)"/>
<path d="M589.1,169.5 L589.4,157 Q593.45,152.0 597.5,157 L597.8,169.5 Z" fill="url(#iY)"/>
<ellipse cx="593" cy="158" rx="3" ry="1.9" fill="#c80000" filter="url(#bl05)"/>
<path d="M599.6,153 Q602.95,142 606.3,153 Z" fill="#300000" filter="url(#bl1)"/>
<path d="M599.0,169.5 L599.3,152 Q602.95,147.0 606.6,152 L606.9,169.5 Z" fill="url(#iY)"/>
<ellipse cx="603" cy="156" rx="3" ry="1.9" fill="#c80000" filter="url(#bl05)"/>
<path d="M607.8000000000001,129 Q610.6,118 613.4,129 Z" fill="#300000" filter="url(#bl1)"/>
<path d="M607.2,169.5 L607.5,128 Q610.6,123.0 613.7,128 L614.0,169.5 Z" fill="url(#iC)"/>
<path d="M612.2,141 Q617.4,130 622.5999999999999,141 Z" fill="#300000" filter="url(#bl1)"/>
<path d="M611.6,169.5 L611.9,140 Q617.4,135.0 622.9,140 L623.1999999999999,169.5 Z" fill="url(#iY)"/>
<ellipse cx="617" cy="153" rx="3" ry="1.9" fill="#c80000" filter="url(#bl05)"/>
<path d="M625.9000000000001,142 Q632.35,131 638.8,142 Z" fill="#300000" filter="url(#bl1)"/>
<path d="M625.3000000000001,169.5 L625.6,141 Q632.35,136.0 639.1,141 L639.4,169.5 Z" fill="url(#iY)"/>
<ellipse cx="633" cy="153" rx="3" ry="1.9" fill="#c80000" filter="url(#bl05)"/>
<ellipse cx="638" cy="157" rx="3" ry="1.9" fill="#c80000" filter="url(#bl05)"/>
<path d="M648.5,142 Q660.0,131 671.5,142 Z" fill="#300000" filter="url(#bl1)"/>
<path d="M647.9,168 L648.1999999999999,141 Q660.0,136.0 671.8000000000001,141 L672.1,168 Z" fill="url(#iY)"/>
<ellipse cx="652" cy="151" rx="3" ry="1.9" fill="#c80000" filter="url(#bl05)"/>
<ellipse cx="658" cy="153" rx="3" ry="1.9" fill="#c80000" filter="url(#bl05)"/>
<ellipse cx="665" cy="155" rx="3" ry="1.9" fill="#c80000" filter="url(#bl05)"/>
<rect x="556.8" y="168.10000000000002" width="119.80000000000007" height="2.2" fill="#3a0000"/>
</g>
<filter id="sf4" filterUnits="userSpaceOnUse" x="398.7" y="191" width="118.59999999999997" height="62" color-interpolation-filters="sRGB"><feGaussianBlur in="SourceGraphic" stdDeviation="0.75" result="s"/><feTurbulence type="fractalNoise" baseFrequency="0.75 0.6" numOctaves="2" seed="31" result="n"/><feColorMatrix in="n" type="matrix" values="1 0 0 0 0 1 0 0 0 0 1 0 0 0 0 0 0 0 0 1" result="ng"/><feColorMatrix in="n" type="matrix" values="0 1 0 0 0 0 1 0 0 0 0 1 0 0 0 0 0 0 0 1" result="ng2"/><feComponentTransfer in="ng" result="m"><feFuncR type="table" tableValues="0.28 0.28 0.3 0.42 0.66 0.86 0.95 1 1 1 1"/><feFuncG type="table" tableValues="0.28 0.28 0.3 0.42 0.66 0.86 0.95 1 1 1 1"/><feFuncB type="table" tableValues="0.28 0.28 0.3 0.42 0.66 0.86 0.95 1 1 1 1"/></feComponentTransfer><feComponentTransfer in="ng2" result="m2"><feFuncR type="table" tableValues="0 0 0 0 0 0.05 0.35 0.8 1 1 1"/><feFuncG type="table" tableValues="0 0 0 0 0 0.05 0.35 0.8 1 1 1"/><feFuncB type="table" tableValues="0 0 0 0 0 0.05 0.35 0.8 1 1 1"/></feComponentTransfer><feColorMatrix in="s" type="matrix" values="1 0 0 0 0 1 0 0 0 0 1 0 0 0 0 0 0 0 0 1" result="sb"/><feColorMatrix in="s" type="matrix" values="0 1 0 0 0 0 1 0 0 0 0 1 0 0 0 0 0 0 0 1" result="sf"/><feComposite in="sb" in2="m" operator="arithmetic" k1="1.08" k2="0" k3="0.03" k4="0" result="vb"/><feComposite in="sf" in2="m2" operator="arithmetic" k1="0.75" k2="0.42" k3="0.08" k4="0" result="vf"/><feComposite in="vb" in2="vf" operator="arithmetic" k1="0" k2="1" k3="1" k4="0" result="v"/><feComponentTransfer in="v"><feFuncR type="table" tableValues="0.1 0.05 0 0 0.5 1 1 1 0.55"/><feFuncG type="table" tableValues="0 0 0.5 1 1 1 0.5 0 0"/><feFuncB type="table" tableValues="0.56 0.95 1 1 0.5 0 0 0 0"/><feFuncA type="linear" slope="0" intercept="1"/></feComponentTransfer></filter>
<g filter="url(#sf4)">
<rect x="398.7" y="191" width="118.59999999999997" height="62" fill="#000"/>
<path d="M398.6,253 L400.5,218 Q404.15,210 407.8,218 L409.7,253 Z" fill="#004c00" filter="url(#bl2)"/>
<path d="M408.6,253 L410.5,218 Q414.1,210 417.7,218 L419.6,253 Z" fill="#004c00" filter="url(#bl2)"/>
<path d="M421.2,253 L423.2,214 Q427.2,206 431.2,214 L433.2,253 Z" fill="#004c00" filter="url(#bl2)"/>
<path d="M434.8,253 L437.8,211 Q445.75,203 453.7,211 L456.7,253 Z" fill="#004c00" filter="url(#bl2)"/>
<path d="M461,253 L462.8,213 Q466.1,205 469.4,213 L471.2,253 Z" fill="#004c00" filter="url(#bl2)"/>
<path d="M470,253 L471.8,224 Q475.15,216 478.5,224 L480.3,253 Z" fill="#004c00" filter="url(#bl2)"/>
<path d="M482.8,253 L484.9,213 Q489.25,205 493.6,213 L495.7,253 Z" fill="#004c00" filter="url(#bl2)"/>
<path d="M497.3,253 L500.1,209 Q507.35,201 514.6,209 L517.4,253 Z" fill="#004c00" filter="url(#bl2)"/>
<path d="M400.8,227 Q404.15,216 407.5,227 Z" fill="#300000" filter="url(#bl1)"/>
<path d="M400.20000000000005,252.5 L400.5,226 Q404.15,221.0 407.8,226 L408.09999999999997,252.5 Z" fill="url(#iY)"/>
<ellipse cx="402" cy="230" rx="3" ry="1.9" fill="#c80000" filter="url(#bl05)"/>
<ellipse cx="407" cy="239" rx="3" ry="1.9" fill="#c80000" filter="url(#bl05)"/>
<path d="M410.8,227 Q414.1,216 417.40000000000003,227 Z" fill="#300000" filter="url(#bl1)"/>
<path d="M410.20000000000005,252.5 L410.5,226 Q414.1,221.0 417.70000000000005,226 L418.0,252.5 Z" fill="url(#iY)"/>
<ellipse cx="414" cy="240" rx="3" ry="1.9" fill="#c80000" filter="url(#bl05)"/>
<path d="M423.4,227 Q427.2,216 431.0,227 Z" fill="#300000" filter="url(#bl1)"/>
<path d="M422.8,244 L423.09999999999997,226 Q427.2,221.0 431.3,226 L431.59999999999997,244 Z" fill="url(#iY)"/>
<ellipse cx="424" cy="231" rx="3" ry="1.9" fill="#c80000" filter="url(#bl05)"/>
<ellipse cx="429" cy="231" rx="3" ry="1.9" fill="#c80000" filter="url(#bl05)"/>
<path d="M437.0,222 Q445.75,211 454.5,222 Z" fill="#300000" filter="url(#bl1)"/>
<path d="M436.40000000000003,252.5 L436.7,221 Q445.75,216.0 454.8,221 L455.09999999999997,252.5 Z" fill="url(#iY)"/>
<ellipse cx="438.5" cy="234" rx="3" ry="1.9" fill="#c80000" filter="url(#bl05)"/>
<ellipse cx="443" cy="230" rx="3" ry="1.9" fill="#c80000" filter="url(#bl05)"/>
<path d="M463.2,227 Q466.1,216 469.0,227 Z" fill="#300000" filter="url(#bl1)"/>
<path d="M462.6,250 L462.9,226 Q466.1,221.0 469.3,226 L469.59999999999997,250 Z" fill="url(#iY)"/>
<ellipse cx="464" cy="230" rx="3" ry="1.9" fill="#c80000" filter="url(#bl05)"/>
<ellipse cx="467.5" cy="234" rx="3" ry="1.9" fill="#c80000" filter="url(#bl05)"/>
<path d="M472.2,231 Q475.15,220 478.1,231 Z" fill="#300000" filter="url(#bl1)"/>
<path d="M471.6,250 L471.9,230 Q475.15,225.0 478.40000000000003,230 L478.7,250 Z" fill="url(#iY)"/>
<ellipse cx="475" cy="238" rx="3" ry="1.9" fill="#c80000" filter="url(#bl05)"/>
<path d="M485.0,227 Q489.25,216 493.5,227 Z" fill="#300000" filter="url(#bl1)"/>
<path d="M484.40000000000003,240 L484.7,226 Q489.25,221.0 493.8,226 L494.09999999999997,240 Z" fill="url(#iY)"/>
<ellipse cx="488" cy="231" rx="3" ry="1.9" fill="#c80000" filter="url(#bl05)"/>
<path d="M499.5,218 Q507.35,207 515.1999999999999,218 Z" fill="#300000" filter="url(#bl1)"/>
<path d="M498.90000000000003,253 L499.2,217 Q507.35,212.0 515.5,217 L515.8,253 Z" fill="url(#iY)"/>
<ellipse cx="502" cy="236" rx="3" ry="1.9" fill="#c80000" filter="url(#bl05)"/>
<ellipse cx="508" cy="229" rx="3" ry="1.9" fill="#c80000" filter="url(#bl05)"/>
<rect x="398.7" y="250.8" width="118.59999999999997" height="2.2" fill="#3a0000"/>
</g>
<filter id="sf5" filterUnits="userSpaceOnUse" x="558.3" y="191" width="117.60000000000002" height="62" color-interpolation-filters="sRGB"><feGaussianBlur in="SourceGraphic" stdDeviation="0.75" result="s"/><feTurbulence type="fractalNoise" baseFrequency="0.75 0.6" numOctaves="2" seed="38" result="n"/><feColorMatrix in="n" type="matrix" values="1 0 0 0 0 1 0 0 0 0 1 0 0 0 0 0 0 0 0 1" result="ng"/><feColorMatrix in="n" type="matrix" values="0 1 0 0 0 0 1 0 0 0 0 1 0 0 0 0 0 0 0 1" result="ng2"/><feComponentTransfer in="ng" result="m"><feFuncR type="table" tableValues="0.28 0.28 0.3 0.42 0.66 0.86 0.95 1 1 1 1"/><feFuncG type="table" tableValues="0.28 0.28 0.3 0.42 0.66 0.86 0.95 1 1 1 1"/><feFuncB type="table" tableValues="0.28 0.28 0.3 0.42 0.66 0.86 0.95 1 1 1 1"/></feComponentTransfer><feComponentTransfer in="ng2" result="m2"><feFuncR type="table" tableValues="0 0 0 0 0 0.05 0.35 0.8 1 1 1"/><feFuncG type="table" tableValues="0 0 0 0 0 0.05 0.35 0.8 1 1 1"/><feFuncB type="table" tableValues="0 0 0 0 0 0.05 0.35 0.8 1 1 1"/></feComponentTransfer><feColorMatrix in="s" type="matrix" values="1 0 0 0 0 1 0 0 0 0 1 0 0 0 0 0 0 0 0 1" result="sb"/><feColorMatrix in="s" type="matrix" values="0 1 0 0 0 0 1 0 0 0 0 1 0 0 0 0 0 0 0 1" result="sf"/><feComposite in="sb" in2="m" operator="arithmetic" k1="1.08" k2="0" k3="0.03" k4="0" result="vb"/><feComposite in="sf" in2="m2" operator="arithmetic" k1="0.75" k2="0.42" k3="0.08" k4="0" result="vf"/><feComposite in="vb" in2="vf" operator="arithmetic" k1="0" k2="1" k3="1" k4="0" result="v"/><feComponentTransfer in="v"><feFuncR type="table" tableValues="0.1 0.05 0 0 0.5 1 1 1 0.55"/><feFuncG type="table" tableValues="0 0 0.5 1 1 1 0.5 0 0"/><feFuncB type="table" tableValues="0.56 0.95 1 1 0.5 0 0 0 0"/><feFuncA type="linear" slope="0" intercept="1"/></feComponentTransfer></filter>
<g filter="url(#sf5)">
<rect x="558.3" y="191" width="117.60000000000002" height="62" fill="#000"/>
<path d="M558.5,253 L560.2,219 Q563.15,211 566.1,219 L567.8,253 Z" fill="#004c00" filter="url(#bl2)"/>
<path d="M566.7,253 L568.7,216 Q572.6500000000001,208 576.6,216 L578.6,253 Z" fill="#004c00" filter="url(#bl2)"/>
<path d="M580.2,253 L582.2,209 Q586.2,201 590.2,209 L592.2,253 Z" fill="#004c00" filter="url(#bl2)"/>
<path d="M593.8,253 L596.6,209 Q603.8499999999999,201 611.1,209 L613.9,253 Z" fill="#004c00" filter="url(#bl2)"/>
<path d="M617.4,253 L619.2,212 Q622.45,204 625.7,212 L627.5,253 Z" fill="#004c00" filter="url(#bl2)"/>
<path d="M626.4,253 L628.2,219 Q631.5,211 634.8,219 L636.6,253 Z" fill="#004c00" filter="url(#bl2)"/>
<path d="M639,253 L641.0,219 Q645.0,211 649.0,219 L651,253 Z" fill="#004c00" filter="url(#bl2)"/>
<path d="M652.7,253 L655.8,211 Q664.1,203 672.4,211 L675.5,253 Z" fill="#004c00" filter="url(#bl2)"/>
<path d="M560.7,225 Q563.15,214 565.5999999999999,225 Z" fill="#300000" filter="url(#bl1)"/>
<path d="M560.1,252.5 L560.4,224 Q563.15,219.0 565.9,224 L566.1999999999999,252.5 Z" fill="url(#iY)"/>
<ellipse cx="565.5" cy="236" rx="3" ry="1.9" fill="#c80000" filter="url(#bl05)"/>
<path d="M568.9000000000001,227 Q572.6500000000001,216 576.4,227 Z" fill="#300000" filter="url(#bl1)"/>
<path d="M568.3000000000001,252.5 L568.6,226 Q572.6500000000001,221.0 576.7,226 L577.0,252.5 Z" fill="url(#iY)"/>
<ellipse cx="573" cy="239" rx="3" ry="1.9" fill="#c80000" filter="url(#bl05)"/>
<path d="M582.4000000000001,227 Q586.2,216 590.0,227 Z" fill="#300000" filter="url(#bl1)"/>
<path d="M581.8000000000001,243 L582.1,226 Q586.2,221.0 590.3000000000001,226 L590.6,243 Z" fill="url(#iY)"/>
<ellipse cx="588.5" cy="239" rx="3" ry="1.9" fill="#c80000" filter="url(#bl05)"/>
<path d="M596.0,225 Q603.8499999999999,214 611.6999999999999,225 Z" fill="#300000" filter="url(#bl1)"/>
<path d="M595.4,252.5 L595.6999999999999,224 Q603.8499999999999,219.0 612.0,224 L612.3,252.5 Z" fill="url(#iY)"/>
<ellipse cx="598.5" cy="234" rx="3" ry="1.9" fill="#c80000" filter="url(#bl05)"/>
<ellipse cx="604" cy="238" rx="3" ry="1.9" fill="#c80000" filter="url(#bl05)"/>
<path d="M619.6,227 Q622.45,216 625.3,227 Z" fill="#300000" filter="url(#bl1)"/>
<path d="M619.0,243 L619.3,226 Q622.45,221.0 625.6,226 L625.9,243 Z" fill="url(#iY)"/>
<ellipse cx="625" cy="235" rx="3" ry="1.9" fill="#c80000" filter="url(#bl05)"/>
<path d="M628.6,227 Q631.5,216 634.4,227 Z" fill="#300000" filter="url(#bl1)"/>
<path d="M628.0,252.5 L628.3,226 Q631.5,221.0 634.7,226 L635.0,252.5 Z" fill="url(#iY)"/>
<ellipse cx="631" cy="238" rx="3" ry="1.9" fill="#c80000" filter="url(#bl05)"/>
<path d="M641.2,227 Q645.0,216 648.8,227 Z" fill="#300000" filter="url(#bl1)"/>
<path d="M640.6,243 L640.9,226 Q645.0,221.0 649.1,226 L649.4,243 Z" fill="url(#iY)"/>
<ellipse cx="647" cy="239" rx="3" ry="1.9" fill="#c80000" filter="url(#bl05)"/>
<ellipse cx="645.5" cy="232" rx="3" ry="1.9" fill="#c80000" filter="url(#bl05)"/>
<path d="M654.9000000000001,218 Q664.1,207 673.3,218 Z" fill="#300000" filter="url(#bl1)"/>
<path d="M654.3000000000001,253 L654.6,217 Q664.1,212.0 673.6,217 L673.9,253 Z" fill="url(#iY)"/>
<ellipse cx="658" cy="234" rx="3" ry="1.9" fill="#c80000" filter="url(#bl05)"/>
<ellipse cx="663.5" cy="238" rx="3" ry="1.9" fill="#c80000" filter="url(#bl05)"/>
<rect x="558.3" y="250.8" width="117.60000000000002" height="2.2" fill="#3a0000"/>
</g>
<filter id="sf6" filterUnits="userSpaceOnUse" x="398.7" y="280" width="119.50000000000006" height="60.30000000000001" color-interpolation-filters="sRGB"><feGaussianBlur in="SourceGraphic" stdDeviation="0.75" result="s"/><feTurbulence type="fractalNoise" baseFrequency="0.75 0.6" numOctaves="2" seed="45" result="n"/><feColorMatrix in="n" type="matrix" values="1 0 0 0 0 1 0 0 0 0 1 0 0 0 0 0 0 0 0 1" result="ng"/><feColorMatrix in="n" type="matrix" values="0 1 0 0 0 0 1 0 0 0 0 1 0 0 0 0 0 0 0 1" result="ng2"/><feComponentTransfer in="ng" result="m"><feFuncR type="table" tableValues="0.28 0.28 0.3 0.42 0.66 0.86 0.95 1 1 1 1"/><feFuncG type="table" tableValues="0.28 0.28 0.3 0.42 0.66 0.86 0.95 1 1 1 1"/><feFuncB type="table" tableValues="0.28 0.28 0.3 0.42 0.66 0.86 0.95 1 1 1 1"/></feComponentTransfer><feComponentTransfer in="ng2" result="m2"><feFuncR type="table" tableValues="0 0 0 0 0 0.05 0.35 0.8 1 1 1"/><feFuncG type="table" tableValues="0 0 0 0 0 0.05 0.35 0.8 1 1 1"/><feFuncB type="table" tableValues="0 0 0 0 0 0.05 0.35 0.8 1 1 1"/></feComponentTransfer><feColorMatrix in="s" type="matrix" values="1 0 0 0 0 1 0 0 0 0 1 0 0 0 0 0 0 0 0 1" result="sb"/><feColorMatrix in="s" type="matrix" values="0 1 0 0 0 0 1 0 0 0 0 1 0 0 0 0 0 0 0 1" result="sf"/><feComposite in="sb" in2="m" operator="arithmetic" k1="1.08" k2="0" k3="0.03" k4="0" result="vb"/><feComposite in="sf" in2="m2" operator="arithmetic" k1="0.75" k2="0.42" k3="0.08" k4="0" result="vf"/><feComposite in="vb" in2="vf" operator="arithmetic" k1="0" k2="1" k3="1" k4="0" result="v"/><feComponentTransfer in="v"><feFuncR type="table" tableValues="0.1 0.05 0 0 0.5 1 1 1 0.55"/><feFuncG type="table" tableValues="0 0 0.5 1 1 1 0.5 0 0"/><feFuncB type="table" tableValues="0.56 0.95 1 1 0.5 0 0 0 0"/><feFuncA type="linear" slope="0" intercept="1"/></feComponentTransfer></filter>
<g filter="url(#sf6)">
<rect x="398.7" y="280" width="119.50000000000006" height="60.30000000000001" fill="#000"/>
<path d="M401.3,340.3 L403.0,302 Q405.95000000000005,294 408.9,302 L410.6,340.3 Z" fill="#004c00" filter="url(#bl2)"/>
<path d="M412.2,340.3 L414.0,309 Q417.25,301 420.5,309 L422.3,340.3 Z" fill="#004c00" filter="url(#bl2)"/>
<path d="M424.9,340.3 L426.8,309 Q430.4,301 434.0,309 L435.9,340.3 Z" fill="#004c00" filter="url(#bl2)"/>
<path d="M436.6,340.3 L438.6,304 Q442.6,296 446.6,304 L448.6,340.3 Z" fill="#004c00" filter="url(#bl2)"/>
<path d="M457.5,340.3 L459.2,296 Q462.1,288 465.0,296 L466.7,340.3 Z" fill="#004c00" filter="url(#bl2)"/>
<path d="M469.2,340.3 L472.2,294 Q480.15,286 488.1,294 L491.1,340.3 Z" fill="#004c00" filter="url(#bl2)"/>
<path d="M494.6,340.3 L497.6,293 Q505.55,285 513.5,293 L516.5,340.3 Z" fill="#004c00" filter="url(#bl2)"/>
<path d="M403.5,309 Q405.95000000000005,298 408.40000000000003,309 Z" fill="#300000" filter="url(#bl1)"/>
<path d="M402.90000000000003,340.3 L403.2,308 Q405.95000000000005,303.0 408.70000000000005,308 L409.0,340.3 Z" fill="url(#iC)"/>
<path d="M414.4,311 Q417.25,300 420.1,311 Z" fill="#300000" filter="url(#bl1)"/>
<path d="M413.8,340.3 L414.09999999999997,310 Q417.25,305.0 420.40000000000003,310 L420.7,340.3 Z" fill="url(#iC)"/>
<path d="M427.09999999999997,314 Q430.4,303 433.7,314 Z" fill="#300000" filter="url(#bl1)"/>
<path d="M426.5,336 L426.79999999999995,313 Q430.4,308.0 434.0,313 L434.29999999999995,336 Z" fill="url(#iY)"/>
<ellipse cx="429.5" cy="325" rx="3" ry="1.9" fill="#c80000" filter="url(#bl05)"/>
<ellipse cx="431.3" cy="328.5" rx="3" ry="1.9" fill="#c80000" filter="url(#bl05)"/>
<path d="M438.8,307 Q442.6,296 446.40000000000003,307 Z" fill="#300000" filter="url(#bl1)"/>
<path d="M438.20000000000005,338 L438.5,306 Q442.6,301.0 446.70000000000005,306 L447.0,338 Z" fill="url(#iY)"/>
<ellipse cx="440.4" cy="325" rx="3" ry="1.9" fill="#c80000" filter="url(#bl05)"/>
<ellipse cx="443" cy="330" rx="3" ry="1.9" fill="#c80000" filter="url(#bl05)"/>
<path d="M459.7,305 Q462.1,294 464.5,305 Z" fill="#300000" filter="url(#bl1)"/>
<path d="M459.1,340.3 L459.4,304 Q462.1,299.0 464.8,304 L465.09999999999997,340.3 Z" fill="url(#iC)"/>
<path d="M471.4,312 Q480.15,301 488.90000000000003,312 Z" fill="#300000" filter="url(#bl1)"/>
<path d="M470.8,340.3 L471.09999999999997,311 Q480.15,306.0 489.20000000000005,311 L489.5,340.3 Z" fill="url(#iO)"/>
<ellipse cx="473" cy="324" rx="3" ry="1.9" fill="#c80000" filter="url(#bl05)"/>
<ellipse cx="480" cy="325" rx="3" ry="1.9" fill="#c80000" filter="url(#bl05)"/>
<ellipse cx="486" cy="322" rx="3" ry="1.9" fill="#c80000" filter="url(#bl05)"/>
<path d="M496.8,312 Q505.55,301 514.3,312 Z" fill="#300000" filter="url(#bl1)"/>
<path d="M496.20000000000005,340.3 L496.5,311 Q505.55,306.0 514.6,311 L514.9,340.3 Z" fill="url(#iO)"/>
<ellipse cx="500" cy="324" rx="3" ry="1.9" fill="#c80000" filter="url(#bl05)"/>
<ellipse cx="506" cy="325" rx="3" ry="1.9" fill="#c80000" filter="url(#bl05)"/>
<ellipse cx="512" cy="322" rx="3" ry="1.9" fill="#c80000" filter="url(#bl05)"/>
<rect x="398.7" y="338.1" width="119.50000000000006" height="2.2" fill="#3a0000"/>
</g>
<filter id="sf7" filterUnits="userSpaceOnUse" x="558.3" y="280" width="117.60000000000002" height="60.80000000000001" color-interpolation-filters="sRGB"><feGaussianBlur in="SourceGraphic" stdDeviation="0.75" result="s"/><feTurbulence type="fractalNoise" baseFrequency="0.75 0.6" numOctaves="2" seed="52" result="n"/><feColorMatrix in="n" type="matrix" values="1 0 0 0 0 1 0 0 0 0 1 0 0 0 0 0 0 0 0 1" result="ng"/><feColorMatrix in="n" type="matrix" values="0 1 0 0 0 0 1 0 0 0 0 1 0 0 0 0 0 0 0 1" result="ng2"/><feComponentTransfer in="ng" result="m"><feFuncR type="table" tableValues="0.28 0.28 0.3 0.42 0.66 0.86 0.95 1 1 1 1"/><feFuncG type="table" tableValues="0.28 0.28 0.3 0.42 0.66 0.86 0.95 1 1 1 1"/><feFuncB type="table" tableValues="0.28 0.28 0.3 0.42 0.66 0.86 0.95 1 1 1 1"/></feComponentTransfer><feComponentTransfer in="ng2" result="m2"><feFuncR type="table" tableValues="0 0 0 0 0 0.05 0.35 0.8 1 1 1"/><feFuncG type="table" tableValues="0 0 0 0 0 0.05 0.35 0.8 1 1 1"/><feFuncB type="table" tableValues="0 0 0 0 0 0.05 0.35 0.8 1 1 1"/></feComponentTransfer><feColorMatrix in="s" type="matrix" values="1 0 0 0 0 1 0 0 0 0 1 0 0 0 0 0 0 0 0 1" result="sb"/><feColorMatrix in="s" type="matrix" values="0 1 0 0 0 0 1 0 0 0 0 1 0 0 0 0 0 0 0 1" result="sf"/><feComposite in="sb" in2="m" operator="arithmetic" k1="1.08" k2="0" k3="0.03" k4="0" result="vb"/><feComposite in="sf" in2="m2" operator="arithmetic" k1="0.75" k2="0.42" k3="0.08" k4="0" result="vf"/><feComposite in="vb" in2="vf" operator="arithmetic" k1="0" k2="1" k3="1" k4="0" result="v"/><feComponentTransfer in="v"><feFuncR type="table" tableValues="0.1 0.05 0 0 0.5 1 1 1 0.55"/><feFuncG type="table" tableValues="0 0 0.5 1 1 1 0.5 0 0"/><feFuncB type="table" tableValues="0.56 0.95 1 1 0.5 0 0 0 0"/><feFuncA type="linear" slope="0" intercept="1"/></feComponentTransfer></filter>
<g filter="url(#sf7)">
<rect x="558.3" y="280" width="117.60000000000002" height="60.80000000000001" fill="#000"/>
<path d="M561.2,340.8 L562.8,302 Q565.4000000000001,294 568.0,302 L569.6,340.8 Z" fill="#004c00" filter="url(#bl2)"/>
<path d="M572.1,340.8 L573.8,307 Q576.7,299 579.6,307 L581.3,340.8 Z" fill="#004c00" filter="url(#bl2)"/>
<path d="M583.9,340.8 L585.8,309 Q589.4,301 593.0,309 L594.9,340.8 Z" fill="#004c00" filter="url(#bl2)"/>
<path d="M595.6,340.8 L597.7,307 Q602.05,299 606.4,307 L608.5,340.8 Z" fill="#004c00" filter="url(#bl2)"/>
<path d="M615.5,340.8 L617.2,302 Q620.15,294 623.1,302 L624.8,340.8 Z" fill="#004c00" filter="url(#bl2)"/>
<path d="M626.4,340.8 L629.2,294 Q636.45,286 643.7,294 L646.5,340.8 Z" fill="#004c00" filter="url(#bl2)"/>
<path d="M650.9,340.8 L653.8,294 Q661.4,286 669.0,294 L671.9,340.8 Z" fill="#004c00" filter="url(#bl2)"/>
<path d="M563.4000000000001,306 Q565.4000000000001,295 567.4,306 Z" fill="#300000" filter="url(#bl1)"/>
<path d="M562.8000000000001,340.8 L563.1,305 Q565.4000000000001,300.0 567.7,305 L568.0,340.8 Z" fill="url(#iC)"/>
<path d="M574.3000000000001,308 Q576.7,297 579.0999999999999,308 Z" fill="#300000" filter="url(#bl1)"/>
<path d="M573.7,340.8 L574.0,307 Q576.7,302.0 579.4,307 L579.6999999999999,340.8 Z" fill="url(#iC)"/>
<path d="M586.1,311 Q589.4,300 592.6999999999999,311 Z" fill="#300000" filter="url(#bl1)"/>
<path d="M585.5,336 L585.8,310 Q589.4,305.0 593.0,310 L593.3,336 Z" fill="url(#iY)"/>
<ellipse cx="588.5" cy="319.5" rx="3" ry="1.9" fill="#c80000" filter="url(#bl05)"/>
<ellipse cx="591" cy="328.5" rx="3" ry="1.9" fill="#c80000" filter="url(#bl05)"/>
<path d="M597.8000000000001,307 Q602.05,296 606.3,307 Z" fill="#300000" filter="url(#bl1)"/>
<path d="M597.2,338 L597.5,306 Q602.05,301.0 606.6,306 L606.9,338 Z" fill="url(#iY)"/>
<ellipse cx="600" cy="316" rx="3" ry="1.9" fill="#c80000" filter="url(#bl05)"/>
<ellipse cx="603" cy="325" rx="3" ry="1.9" fill="#c80000" filter="url(#bl05)"/>
<path d="M617.7,302 Q620.15,291 622.5999999999999,302 Z" fill="#300000" filter="url(#bl1)"/>
<path d="M617.1,340.8 L617.4,301 Q620.15,296.0 622.9,301 L623.1999999999999,340.8 Z" fill="url(#iC)"/>
<path d="M628.6,315 Q636.45,304 644.3,315 Z" fill="#300000" filter="url(#bl1)"/>
<path d="M628.0,340.8 L628.3,314 Q636.45,309.0 644.6,314 L644.9,340.8 Z" fill="url(#iO)"/>
<ellipse cx="633" cy="319" rx="3" ry="1.9" fill="#c80000" filter="url(#bl05)"/>
<ellipse cx="640" cy="319" rx="3" ry="1.9" fill="#c80000" filter="url(#bl05)"/>
<ellipse cx="636" cy="324" rx="3" ry="1.9" fill="#c80000" filter="url(#bl05)"/>
<path d="M653.1,315 Q661.4,304 669.6999999999999,315 Z" fill="#300000" filter="url(#bl1)"/>
<path d="M652.5,340.8 L652.8,314 Q661.4,309.0 670.0,314 L670.3,340.8 Z" fill="url(#iO)"/>
<ellipse cx="657" cy="319" rx="3" ry="1.9" fill="#c80000" filter="url(#bl05)"/>
<ellipse cx="665" cy="319" rx="3" ry="1.9" fill="#c80000" filter="url(#bl05)"/>
<ellipse cx="661" cy="324" rx="3" ry="1.9" fill="#c80000" filter="url(#bl05)"/>
<rect x="558.3" y="338.6" width="117.60000000000002" height="2.2" fill="#3a0000"/>
</g>
<line x1="520.8" y1="54.8" x2="551" y2="54.8" stroke="#231f20" stroke-width="1.7"/>
<path d="M550 48.199999999999996 L557.2 54.8 L550 61.4 Z" fill="#231f20"/>
<text x="536.3" y="51.6" font-size="10.2" font-weight="normal" text-anchor="middle" fill="#231f20" >CAR</text>
<line x1="520.8" y1="140.8" x2="551" y2="140.8" stroke="#231f20" stroke-width="1.7"/>
<path d="M550 134.20000000000002 L557.2 140.8 L550 147.4 Z" fill="#231f20"/>
<text x="536.3" y="138.8" font-size="10.2" font-weight="normal" text-anchor="middle" fill="#231f20" >OM</text>
<line x1="520.8" y1="223.2" x2="551" y2="223.2" stroke="#231f20" stroke-width="1.7"/>
<path d="M550 216.6 L557.2 223.2 L550 229.79999999999998 Z" fill="#231f20"/>
<text x="536.3" y="217.3" font-size="10.2" font-weight="normal" text-anchor="middle" fill="#231f20" >DMPP</text>
<line x1="520.8" y1="314" x2="551" y2="314" stroke="#231f20" stroke-width="1.7"/>
<path d="M550 307.4 L557.2 314 L550 320.6 Z" fill="#231f20"/>
<text x="536.3" y="309.4" font-size="10.2" font-weight="normal" text-anchor="middle" fill="#231f20" >PBS</text>
<line x1="678.6" y1="58.2" x2="678.6" y2="89.85" stroke="#1a1a1a" stroke-width="1.1"/>
<line x1="656.1" y1="89.3" x2="679.15" y2="89.3" stroke="#1a1a1a" stroke-width="1.1"/>
<text x="659.4" y="94.7" font-size="5.1" font-weight="normal" text-anchor="start" fill="#1a1a1a" textLength="16.7" lengthAdjust="spacingAndGlyphs" >100 ms</text>
<text transform="translate(684.1,73.5) rotate(-90)" font-size="5.1" text-anchor="middle" fill="#1a1a1a" textLength="13" lengthAdjust="spacingAndGlyphs">8 kHz</text>
<line x1="678.8" y1="143.2" x2="678.8" y2="175.45000000000002" stroke="#1a1a1a" stroke-width="1.1"/>
<line x1="641.2" y1="174.9" x2="679.3499999999999" y2="174.9" stroke="#1a1a1a" stroke-width="1.1"/>
<text x="654.3" y="180.8" font-size="5.1" font-weight="normal" text-anchor="start" fill="#1a1a1a" textLength="16.7" lengthAdjust="spacingAndGlyphs" >200 ms</text>
<text transform="translate(684.1,157.8) rotate(-90)" font-size="5.1" text-anchor="middle" fill="#1a1a1a" textLength="13" lengthAdjust="spacingAndGlyphs">8 kHz</text>
<line x1="678.6" y1="232" x2="678.6" y2="258.35" stroke="#1a1a1a" stroke-width="1.1"/>
<line x1="650.2" y1="257.8" x2="679.15" y2="257.8" stroke="#1a1a1a" stroke-width="1.1"/>
<text x="656.9" y="263.8" font-size="5.1" font-weight="normal" text-anchor="start" fill="#1a1a1a" textLength="16.7" lengthAdjust="spacingAndGlyphs" >200 ms</text>
<text transform="translate(684.1,244.6) rotate(-90)" font-size="5.1" text-anchor="middle" fill="#1a1a1a" textLength="13" lengthAdjust="spacingAndGlyphs">8 kHz</text>
<line x1="678.9" y1="313.4" x2="678.9" y2="344.95" stroke="#1a1a1a" stroke-width="1.1"/>
<line x1="644.5" y1="344.4" x2="679.4499999999999" y2="344.4" stroke="#1a1a1a" stroke-width="1.1"/>
<text x="656.2" y="349.9" font-size="5.1" font-weight="normal" text-anchor="start" fill="#1a1a1a" textLength="16.7" lengthAdjust="spacingAndGlyphs" >200 ms</text>
<text transform="translate(684.1,329.5) rotate(-90)" font-size="5.1" text-anchor="middle" fill="#1a1a1a" textLength="13" lengthAdjust="spacingAndGlyphs">8 kHz</text>
<clipPath id="phc"><rect x="38" y="199.6" width="133.9" height="133.70000000000002"/></clipPath>
<rect x="38" y="199.6" width="133.9" height="133.70000000000002" fill="#e2bb2a"/>
<g clip-path="url(#phc)">
<defs><radialGradient id="lb"><stop offset="0" stop-color="#f4e670"/><stop offset="0.55" stop-color="#eed04a" stop-opacity="0.7"/><stop offset="1" stop-color="#eed04a" stop-opacity="0"/></radialGradient><radialGradient id="db"><stop offset="0" stop-color="#c08a10"/><stop offset="1" stop-color="#c08a10" stop-opacity="0"/></radialGradient></defs>
<circle cx="70" cy="210" r="18" fill="url(#lb)"/>
<circle cx="134" cy="212" r="16" fill="url(#lb)"/>
<circle cx="160" cy="232" r="16" fill="url(#lb)"/>
<circle cx="150" cy="252" r="15" fill="url(#lb)"/>
<circle cx="46" cy="252" r="15" fill="url(#lb)"/>
<circle cx="100" cy="214" r="12" fill="url(#lb)"/>
<circle cx="165" cy="292" r="16" fill="url(#lb)"/>
<circle cx="150" cy="320" r="12" fill="url(#lb)"/>
<circle cx="48" cy="320" r="15" fill="url(#lb)"/>
<circle cx="128" cy="276" r="12" fill="url(#lb)"/>
<circle cx="160" cy="206" r="10" fill="url(#lb)"/>
<circle cx="60" cy="232" r="10" fill="url(#lb)"/>
<circle cx="60" cy="242" r="10" fill="url(#db)" opacity="0.45"/>
<circle cx="152" cy="272" r="10" fill="url(#db)" opacity="0.45"/>
<circle cx="120" cy="302" r="10" fill="url(#db)" opacity="0.45"/>
<circle cx="88" cy="202" r="8" fill="url(#db)" opacity="0.45"/>
<rect x="36.0" y="199.6" width="1.8" height="133.70000000000002" fill="#c98e1a" opacity="0.9"/>
<rect x="49.3" y="199.6" width="1.8" height="133.70000000000002" fill="#c98e1a" opacity="0.9"/>
<rect x="62.6" y="199.6" width="1.8" height="133.70000000000002" fill="#c98e1a" opacity="0.9"/>
<rect x="75.9" y="199.6" width="1.8" height="133.70000000000002" fill="#c98e1a" opacity="0.9"/>
<rect x="89.2" y="199.6" width="1.8" height="133.70000000000002" fill="#c98e1a" opacity="0.9"/>
<rect x="102.5" y="199.6" width="1.8" height="133.70000000000002" fill="#c98e1a" opacity="0.9"/>
<rect x="115.8" y="199.6" width="1.8" height="133.70000000000002" fill="#c98e1a" opacity="0.9"/>
<rect x="129.1" y="199.6" width="1.8" height="133.70000000000002" fill="#c98e1a" opacity="0.9"/>
<rect x="142.4" y="199.6" width="1.8" height="133.70000000000002" fill="#c98e1a" opacity="0.9"/>
<rect x="155.7" y="199.6" width="1.8" height="133.70000000000002" fill="#c98e1a" opacity="0.9"/>
<rect x="169.0" y="199.6" width="1.8" height="133.70000000000002" fill="#c98e1a" opacity="0.9"/>
<rect x="38" y="258.7" width="133.9" height="1.8" fill="#cf9414" opacity="0.9"/>
<path fill="none" stroke="#f4eedc" stroke-width="0.9" opacity="0.75" d="M97,218 C86,212 72,216 64,234 C60,246 58,262 57,270 M98,220 C92,220 82,226 78,240 C76,250 75,262 74,270"/>
<path fill="#3c3a3a" d="M38,279 L48,275 L55,288 L44,294 L38,294 Z"/>
<path fill="#e8e8e8" d="M38,284 L47,282 L50,291 L40,293 L38,292 Z"/>
<path fill="#5c5856" d="M103.4,218.4 C96,224 90,234 83,244 C74,255 62,266 48,276 L50,288 C70,292 100,290 118,280 C124,272 127,262 128,248 C130,236 130,226 127,219.5 C118,216 110,216 103.4,218.4 Z"/>
<path fill="#66666a" d="M92,250 C100,244 114,242 126,246 L127,262 C124,270 116,274 106,274 C98,272 93,264 92,250 Z"/>
<path fill="#7a3a22" d="M50.3,277.7 C56,271 62,266 66.7,263.4 C72,260 78,258.5 83,258 C88,257.6 93,257.8 95.3,258.3 C98,262 98,266 97.3,270 C96.5,273 95.3,275.7 93,277 C88,280 83,282 78,284 C72,286 66.7,286.5 60,287.5 C56,288 53,286 50.3,277.7 Z"/>
<circle cx="79.9" cy="278.8" r="0.8" fill="#f4eee8"/>
<circle cx="86.8" cy="283.6" r="0.8" fill="#f4eee8"/>
<circle cx="84.6" cy="283.1" r="0.8" fill="#f4eee8"/>
<circle cx="56.2" cy="272.2" r="0.8" fill="#f4eee8"/>
<circle cx="92.7" cy="276.6" r="0.8" fill="#f4eee8"/>
<circle cx="91.0" cy="263.7" r="0.8" fill="#f4eee8"/>
<circle cx="73.8" cy="266.9" r="0.8" fill="#f4eee8"/>
<circle cx="76.8" cy="274.8" r="0.8" fill="#f4eee8"/>
<circle cx="55.5" cy="266.2" r="0.8" fill="#f4eee8"/>
<circle cx="66.2" cy="283.0" r="0.8" fill="#f4eee8"/>
<circle cx="85.6" cy="264.8" r="0.8" fill="#f4eee8"/>
<circle cx="86.9" cy="264.3" r="0.8" fill="#f4eee8"/>
<circle cx="79.7" cy="264.0" r="0.8" fill="#f4eee8"/>
<circle cx="55.1" cy="281.9" r="0.8" fill="#f4eee8"/>
<circle cx="63.4" cy="266.2" r="0.8" fill="#f4eee8"/>
<circle cx="94.3" cy="281.9" r="0.8" fill="#f4eee8"/>
<circle cx="66.6" cy="284.1" r="0.8" fill="#f4eee8"/>
<circle cx="76.6" cy="277.3" r="0.8" fill="#f4eee8"/>
<circle cx="63.2" cy="283.6" r="0.8" fill="#f4eee8"/>
<circle cx="82.6" cy="284.2" r="0.8" fill="#f4eee8"/>
<circle cx="90.7" cy="268.2" r="0.8" fill="#f4eee8"/>
<circle cx="69.4" cy="265.0" r="0.8" fill="#f4eee8"/>
<circle cx="60.8" cy="262.6" r="0.8" fill="#f4eee8"/>
<circle cx="67.1" cy="275.5" r="0.8" fill="#f4eee8"/>
<circle cx="55.1" cy="277.3" r="0.8" fill="#f4eee8"/>
<circle cx="68.5" cy="268.4" r="0.8" fill="#f4eee8"/>
<circle cx="87.7" cy="272.5" r="0.8" fill="#f4eee8"/>
<circle cx="67.6" cy="272.5" r="0.8" fill="#f4eee8"/>
<path fill="#1c1c1c" d="M102,270 C110,272 118,270 125,266 C124,272 122,276 118,278 C112,279 106,276 102,270 Z"/>
<path fill="#f2f0ea" d="M42,290 C55,289 70,288 85,285 C100,282 110,278 121,275 C120,282 114,288 104,291 C92,296 80,299 68,300 C58,300 48,297 42,290 Z"/>
<path fill="#6e6e72" d="M100,222 C104,218 112,216.5 120,217 C126,218 129,222 128,228 C127,234 124,238 118,240 C110,241 103,238 100,232 Z"/>
<path fill="#ae6020" d="M98,226 C102,222 110,222 116,225 L118,244 C114,248 106,248 101,244 C97,238 96,230 98,226 Z"/>
<path fill="#eeeeee" d="M118.6,226 L123,227 L123.4,240 L119.4,240 Z"/>
<path fill="#151515" d="M123.4,226 L126,226 L126,238 L123.6,240 Z"/>
<circle cx="118.2" cy="223" r="2.2" fill="#1a1a1a"/>
<path fill="#ee4e2e" d="M127,219.5 C133,218.5 139,222 143.3,227.6 C139,231 133,234 126,234.8 C124.5,229 125,223 127,219.5 Z"/>
<path fill="#f0f0f0" d="M94,218 C97,215.5 103,215.5 106.5,219 C106,223 102,226 97,225.5 C94.5,224 93.5,221 94,218 Z"/>
<path fill="#c8c8c8" d="M91,232 C94,229 99,230 101.5,235 C100,240 96,243 92,241 Z"/>
<path fill="none" stroke="#e47a44" stroke-width="2.2" stroke-linecap="round" d="M67,303.5 C75,305.5 81,305 88,304.5 M80,304.5 L84,316 M88,304.5 L117.5,304.5"/>
<rect x="84" y="306.4" width="88" height="27" fill="#d8cfbe"/>
<rect x="84" y="306.4" width="88" height="3" fill="#ece6da"/>
<rect x="84" y="306.4" width="2" height="27" fill="#c4b8a4"/>
</g>
<clipPath id="hc"><circle cx="265.1" cy="265.4" r="72.6"/></clipPath>
<circle cx="265.1" cy="265.4" r="72.6" fill="#d9d6e2"/>
<g clip-path="url(#hc)">
<path d="M190,190 L345,190 L345,212 C325,216 300,220 284,224 C262,228 240,229 222,232 C208,236 198,242 190,250 Z" fill="#dadcc6" filter="url(#bl2)"/>
<path d="M288,225 C292,250 288,280 285,300 C282,320 280,335 278,345 L345,345 L345,215 Z" fill="#dfdfe2"/>
<path d="M283,230 C290,260 285,290 282,320" stroke="#e4e4c8" stroke-width="4" fill="none" filter="url(#bl1)"/>
<rect x="293" y="238.9" width="60" height="11.599999999999994" rx="5.799999999999997" fill="#8f8fd8"/>
<rect x="299" y="242.4" width="56" height="3.2" rx="1.5" fill="#b4b4e6"/>
<rect x="294.9" y="264.7" width="60" height="14.699999999999989" rx="7.349999999999994" fill="#8f8fd8"/>
<rect x="300.9" y="269.1" width="56" height="4.1" rx="1.5" fill="#b4b4e6"/>
<rect x="287.5" y="290.6" width="60" height="16.69999999999999" rx="8.349999999999994" fill="#8f8fd8"/>
<rect x="293.5" y="295.6" width="56" height="4.7" rx="1.5" fill="#b4b4e6"/>
<rect x="303.5" y="310.8" width="60" height="8.699999999999989" rx="4.349999999999994" fill="#8f8fd8"/>
<rect x="309.5" y="313.4" width="56" height="2.4" rx="1.5" fill="#b4b4e6"/>
<path d="M305,203 L345,195 L345,215 L310,222 Z" fill="#8f8fd8"/>
<path d="M222,312 C250,305 280,305 300,312 L300,345 L215,345 Z" fill="#d2d0e4"/>
<path d="M222,316 C250,309 280,309 300,316" stroke="#e6e4f0" stroke-width="0.8" fill="none"/>
<path d="M225,320 C250,313 280,313 300,320" stroke="#e6e4f0" stroke-width="0.8" fill="none"/>
<path d="M228,324 C250,317 280,317 300,324" stroke="#e6e4f0" stroke-width="0.8" fill="none"/>
<path d="M231,328 C250,321 280,321 300,328" stroke="#e6e4f0" stroke-width="0.8" fill="none"/>
<path d="M234,332 C250,325 280,325 300,332" stroke="#e6e4f0" stroke-width="0.8" fill="none"/>
<defs><radialGradient id="vig" cx="0.5" cy="0.5" r="0.5"><stop offset="0.86" stop-color="#9a98a4" stop-opacity="0"/><stop offset="1" stop-color="#9a98a4" stop-opacity="0.55"/></radialGradient></defs>
<circle cx="265.1" cy="265.4" r="72.6" fill="url(#vig)"/>
</g>
<path d="M256.8,231 C255.8,240 256.3,252 258.2,261" stroke="#b07a88" stroke-width="3" fill="none" stroke-linecap="round"/>
<path d="M218,292 L221,285 L224,279" stroke="#b88088" stroke-width="0.8" fill="none"/>
<g transform="translate(190,190) scale(0.22188)"><path d="M215,343 C240,330 290,322 330,320 C370,325 398,345 406,378 C410,410 395,435 350,445 C315,445 295,425 280,408 C262,388 240,365 215,343 Z" fill="none" stroke="#222" stroke-width="5.5" stroke-dasharray="14 10"/></g>
<text x="218.8" y="221.0" font-size="15.6" font-weight="normal" text-anchor="start" fill="#231f20" textLength="93.9" lengthAdjust="spacingAndGlyphs" >cannula track</text>
<text x="218.0" y="291.8" font-size="19.4" font-weight="normal" text-anchor="start" fill="#231f20" textLength="27.0" lengthAdjust="spacingAndGlyphs" >RA</text>
<path d="M236.6,228.2 L251.7,247.2 M251.9,247.4 L245.5,245.4 M251.9,247.4 L251.4,240.6" stroke="#231f20" stroke-width="1.1" fill="none"/>
<path d="M284.3,229.5 L265.9,246.6 M265.7,246.8 L272.3,245.2 M265.7,246.8 L266.6,240.1" stroke="#231f20" stroke-width="1.1" fill="none"/>
<text x="335" y="193" font-size="9" font-weight="normal" text-anchor="start" fill="#231f20" textLength="25.2" lengthAdjust="spacingAndGlyphs" >dorsal</text>
<text x="313.8" y="209.6" font-size="9" font-weight="normal" text-anchor="start" fill="#231f20" textLength="25.2" lengthAdjust="spacingAndGlyphs" >lateral</text>
<path d="M352.7,207.4 L352.7,196.5 M340.8,207.4 L352.7,207.4" stroke="#231f20" stroke-width="1.2" fill="none"/>
<path d="M350.2,198.8 L352.7,195.3 L355.2,198.8 M343.1,205 L339.6,207.4 L343.1,209.8" stroke="#231f20" stroke-width="1.2" fill="none"/>
<line x1="96.5" y1="485.3" x2="96.5" y2="477.6" stroke="#1a1a1a" stroke-width="1.6"/>
<line x1="91.9" y1="477.6" x2="101.1" y2="477.6" stroke="#1a1a1a" stroke-width="1.6"/>
<rect x="88.0" y="485.3" width="17" height="66.30000000000001" fill="#808080" stroke="#1a1a1a" stroke-width="1.6"/>
<line x1="123.7" y1="452.4" x2="123.7" y2="446.1" stroke="#1a1a1a" stroke-width="1.6"/>
<line x1="119.10000000000001" y1="446.1" x2="128.3" y2="446.1" stroke="#1a1a1a" stroke-width="1.6"/>
<rect x="115.2" y="452.4" width="17" height="99.20000000000005" fill="#808080" stroke="#1a1a1a" stroke-width="1.6"/>
<line x1="150.9" y1="481.2" x2="150.9" y2="466.5" stroke="#fa2323" stroke-width="1.6"/>
<line x1="146.3" y1="466.5" x2="155.5" y2="466.5" stroke="#fa2323" stroke-width="1.6"/>
<rect x="142.4" y="481.2" width="17" height="70.40000000000003" fill="#f29aa2" stroke="#fa2323" stroke-width="1.6"/>
<line x1="178.1" y1="444.6" x2="178.1" y2="438.8" stroke="#fa2323" stroke-width="1.6"/>
<line x1="173.5" y1="438.8" x2="182.7" y2="438.8" stroke="#fa2323" stroke-width="1.6"/>
<rect x="169.6" y="444.6" width="17" height="107.0" fill="#f29aa2" stroke="#fa2323" stroke-width="1.6"/>
<line x1="205.3" y1="460.6" x2="205.3" y2="448.6" stroke="#8c8c8c" stroke-width="1.6"/>
<line x1="200.70000000000002" y1="448.6" x2="209.9" y2="448.6" stroke="#8c8c8c" stroke-width="1.6"/>
<rect x="196.8" y="460.6" width="17" height="91.0" fill="#d5d5d5" stroke="#8c8c8c" stroke-width="1.6"/>
<line x1="232.5" y1="456.4" x2="232.5" y2="447.2" stroke="#8c8c8c" stroke-width="1.6"/>
<line x1="227.9" y1="447.2" x2="237.1" y2="447.2" stroke="#8c8c8c" stroke-width="1.6"/>
<rect x="224.0" y="456.4" width="17" height="95.20000000000005" fill="#d5d5d5" stroke="#8c8c8c" stroke-width="1.6"/>
<line x1="259.7" y1="457.3" x2="259.7" y2="448.4" stroke="#2f55a8" stroke-width="1.6"/>
<line x1="255.1" y1="448.4" x2="264.3" y2="448.4" stroke="#2f55a8" stroke-width="1.6"/>
<rect x="251.2" y="457.3" width="17" height="94.30000000000001" fill="#96c3f5" stroke="#2f55a8" stroke-width="1.6"/>
<line x1="286.9" y1="453.8" x2="286.9" y2="442.2" stroke="#2f55a8" stroke-width="1.6"/>
<line x1="282.29999999999995" y1="442.2" x2="291.5" y2="442.2" stroke="#2f55a8" stroke-width="1.6"/>
<rect x="278.4" y="453.8" width="17" height="97.80000000000001" fill="#96c3f5" stroke="#2f55a8" stroke-width="1.6"/>
<line x1="96.5" y1="460.8" x2="123.7" y2="437.1" stroke="#1a1a1a" stroke-width="0.7"/>
<line x1="96.5" y1="467.1" x2="123.7" y2="438.9" stroke="#1a1a1a" stroke-width="0.7"/>
<line x1="96.5" y1="485.4" x2="123.7" y2="444.2" stroke="#1a1a1a" stroke-width="0.7"/>
<line x1="96.5" y1="490" x2="123.7" y2="461.7" stroke="#1a1a1a" stroke-width="0.7"/>
<line x1="96.5" y1="499.1" x2="123.7" y2="452.9" stroke="#1a1a1a" stroke-width="0.7"/>
<line x1="96.5" y1="501.6" x2="123.7" y2="470.4" stroke="#1a1a1a" stroke-width="0.7"/>
<circle cx="96.5" cy="460.8" r="1.75" fill="#000"/>
<circle cx="96.5" cy="467.1" r="1.75" fill="#000"/>
<circle cx="96.5" cy="485.4" r="1.75" fill="#000"/>
<circle cx="96.5" cy="490" r="1.75" fill="#000"/>
<circle cx="96.5" cy="499.1" r="1.75" fill="#000"/>
<circle cx="96.5" cy="501.6" r="1.75" fill="#000"/>
<circle cx="123.7" cy="437.1" r="1.75" fill="#000"/>
<circle cx="123.7" cy="438.9" r="1.75" fill="#000"/>
<circle cx="123.7" cy="444.2" r="1.75" fill="#000"/>
<circle cx="123.7" cy="452.9" r="1.75" fill="#000"/>
<circle cx="123.7" cy="461.7" r="1.75" fill="#000"/>
<circle cx="123.7" cy="470.4" r="1.75" fill="#000"/>
<line x1="150.9" y1="440.6" x2="178.1" y2="426.5" stroke="#1a1a1a" stroke-width="0.7"/>
<line x1="150.9" y1="455.5" x2="178.1" y2="434.2" stroke="#1a1a1a" stroke-width="0.7"/>
<line x1="150.9" y1="457.4" x2="178.1" y2="442.3" stroke="#1a1a1a" stroke-width="0.7"/>
<line x1="150.9" y1="482" x2="178.1" y2="442.3" stroke="#1a1a1a" stroke-width="0.7"/>
<line x1="150.9" y1="517.6" x2="178.1" y2="451.9" stroke="#1a1a1a" stroke-width="0.7"/>
<line x1="150.9" y1="523.8" x2="178.1" y2="460.3" stroke="#1a1a1a" stroke-width="0.7"/>
<circle cx="150.9" cy="440.6" r="1.75" fill="#000"/>
<circle cx="150.9" cy="455.5" r="1.75" fill="#000"/>
<circle cx="150.9" cy="457.4" r="1.75" fill="#000"/>
<circle cx="150.9" cy="482" r="1.75" fill="#000"/>
<circle cx="150.9" cy="517.6" r="1.75" fill="#000"/>
<circle cx="150.9" cy="523.8" r="1.75" fill="#000"/>
<circle cx="178.1" cy="426.5" r="1.75" fill="#000"/>
<circle cx="178.1" cy="434.2" r="1.75" fill="#000"/>
<circle cx="178.1" cy="442.3" r="1.75" fill="#000"/>
<circle cx="178.1" cy="451.9" r="1.75" fill="#000"/>
<circle cx="178.1" cy="460.3" r="1.75" fill="#000"/>
<line x1="205.3" y1="433.3" x2="232.5" y2="437.2" stroke="#1a1a1a" stroke-width="0.7"/>
<line x1="205.3" y1="443.3" x2="232.5" y2="444.5" stroke="#1a1a1a" stroke-width="0.7"/>
<line x1="205.3" y1="448.4" x2="232.5" y2="446.3" stroke="#1a1a1a" stroke-width="0.7"/>
<line x1="205.3" y1="480.3" x2="232.5" y2="461.5" stroke="#1a1a1a" stroke-width="0.7"/>
<line x1="205.3" y1="490.4" x2="232.5" y2="485.9" stroke="#1a1a1a" stroke-width="0.7"/>
<circle cx="205.3" cy="433.3" r="1.75" fill="#000"/>
<circle cx="205.3" cy="443.3" r="1.75" fill="#000"/>
<circle cx="205.3" cy="448.4" r="1.75" fill="#000"/>
<circle cx="205.3" cy="480.3" r="1.75" fill="#000"/>
<circle cx="205.3" cy="490.4" r="1.75" fill="#000"/>
<circle cx="232.5" cy="437.2" r="1.75" fill="#000"/>
<circle cx="232.5" cy="444.5" r="1.75" fill="#000"/>
<circle cx="232.5" cy="446.3" r="1.75" fill="#000"/>
<circle cx="232.5" cy="461.5" r="1.75" fill="#000"/>
<circle cx="232.5" cy="485.9" r="1.75" fill="#000"/>
<line x1="259.7" y1="444.5" x2="286.9" y2="433.7" stroke="#1a1a1a" stroke-width="0.7"/>
<line x1="259.7" y1="446.3" x2="286.9" y2="438.7" stroke="#1a1a1a" stroke-width="0.7"/>
<line x1="259.7" y1="448.4" x2="286.9" y2="446.3" stroke="#1a1a1a" stroke-width="0.7"/>
<line x1="259.7" y1="452.9" x2="286.9" y2="447.7" stroke="#1a1a1a" stroke-width="0.7"/>
<line x1="259.7" y1="490.1" x2="286.9" y2="495.9" stroke="#1a1a1a" stroke-width="0.7"/>
<circle cx="259.7" cy="444.5" r="1.75" fill="#000"/>
<circle cx="259.7" cy="446.3" r="1.75" fill="#000"/>
<circle cx="259.7" cy="448.4" r="1.75" fill="#000"/>
<circle cx="259.7" cy="452.9" r="1.75" fill="#000"/>
<circle cx="259.7" cy="490.1" r="1.75" fill="#000"/>
<circle cx="286.9" cy="433.7" r="1.75" fill="#000"/>
<circle cx="286.9" cy="438.7" r="1.75" fill="#000"/>
<circle cx="286.9" cy="446.3" r="1.75" fill="#000"/>
<circle cx="286.9" cy="447.7" r="1.75" fill="#000"/>
<circle cx="286.9" cy="495.9" r="1.75" fill="#000"/>
<line x1="78.3" y1="402.6" x2="78.3" y2="551.6" stroke="#1a1a1a" stroke-width="1.3"/>
<line x1="78.3" y1="551.6" x2="306" y2="551.6" stroke="#1a1a1a" stroke-width="1.3"/>
<line x1="72.3" y1="402.6" x2="78.3" y2="402.6" stroke="#1a1a1a" stroke-width="1.3"/>
<text x="70.3" y="406.5" font-size="11" font-weight="bold" text-anchor="end" fill="#000" >100</text>
<line x1="72.3" y1="439.9" x2="78.3" y2="439.9" stroke="#1a1a1a" stroke-width="1.3"/>
<text x="70.3" y="443.79999999999995" font-size="11" font-weight="bold" text-anchor="end" fill="#000" >95</text>
<line x1="72.3" y1="477.2" x2="78.3" y2="477.2" stroke="#1a1a1a" stroke-width="1.3"/>
<text x="70.3" y="481.09999999999997" font-size="11" font-weight="bold" text-anchor="end" fill="#000" >90</text>
<line x1="72.3" y1="514.4" x2="78.3" y2="514.4" stroke="#1a1a1a" stroke-width="1.3"/>
<text x="70.3" y="518.3" font-size="11" font-weight="bold" text-anchor="end" fill="#000" >85</text>
<line x1="72.3" y1="551.6" x2="78.3" y2="551.6" stroke="#1a1a1a" stroke-width="1.3"/>
<text x="70.3" y="555.5" font-size="11" font-weight="bold" text-anchor="end" fill="#000" >80</text>
<line x1="96.5" y1="551.6" x2="96.5" y2="557.8000000000001" stroke="#1a1a1a" stroke-width="1.3"/>
<text x="96.5" y="569.2" font-size="11" font-weight="bold" text-anchor="middle" fill="#000" >Pre</text>
<line x1="123.7" y1="551.6" x2="123.7" y2="557.8000000000001" stroke="#1a1a1a" stroke-width="1.3"/>
<text x="123.7" y="569.2" font-size="11" font-weight="bold" text-anchor="middle" fill="#000" >CAR</text>
<line x1="150.9" y1="551.6" x2="150.9" y2="557.8000000000001" stroke="#1a1a1a" stroke-width="1.3"/>
<text x="150.9" y="569.2" font-size="11" font-weight="bold" text-anchor="middle" fill="#000" >Pre</text>
<line x1="178.1" y1="551.6" x2="178.1" y2="557.8000000000001" stroke="#1a1a1a" stroke-width="1.3"/>
<text x="178.1" y="569.2" font-size="11" font-weight="bold" text-anchor="middle" fill="#000" >OM</text>
<line x1="205.3" y1="551.6" x2="205.3" y2="557.8000000000001" stroke="#1a1a1a" stroke-width="1.3"/>
<text x="205.3" y="569.2" font-size="11" font-weight="bold" text-anchor="middle" fill="#000" >Pre</text>
<line x1="232.5" y1="551.6" x2="232.5" y2="557.8000000000001" stroke="#1a1a1a" stroke-width="1.3"/>
<text x="232.5" y="569.2" font-size="11" font-weight="bold" text-anchor="middle" fill="#000" >DMPP</text>
<line x1="259.7" y1="551.6" x2="259.7" y2="557.8000000000001" stroke="#1a1a1a" stroke-width="1.3"/>
<text x="259.7" y="569.2" font-size="11" font-weight="bold" text-anchor="middle" fill="#000" >Pre</text>
<line x1="286.9" y1="551.6" x2="286.9" y2="557.8000000000001" stroke="#1a1a1a" stroke-width="1.3"/>
<text x="286.9" y="569.2" font-size="11" font-weight="bold" text-anchor="middle" fill="#000" >PBS</text>
<text transform="translate(41.4,478.7) rotate(-90)" x="0" y="0" font-size="11.5" font-weight="bold" text-anchor="middle" fill="#000" textLength="152" lengthAdjust="spacingAndGlyphs" xml:space="preserve">Similarity to own songs (%)</text>
<line x1="95.1" y1="427" x2="122.8" y2="427" stroke="#1a1a1a" stroke-width="1.1"/>
<text x="109.4" y="430.7" font-size="17" font-weight="bold" text-anchor="middle" fill="#000" >*</text>
<line x1="151.3" y1="416.4" x2="179" y2="416.4" stroke="#1a1a1a" stroke-width="1.1"/>
<text x="165.2" y="421.1" font-size="17" font-weight="bold" text-anchor="middle" fill="#000" >*</text>
<line x1="428.9" y1="511.5" x2="428.9" y2="515.2" stroke="#1a1a1a" stroke-width="1.6"/>
<line x1="424.29999999999995" y1="515.2" x2="433.5" y2="515.2" stroke="#1a1a1a" stroke-width="1.6"/>
<rect x="420.7" y="403.4" width="16.4" height="108.10000000000002" fill="#808080" stroke="#1a1a1a" stroke-width="1.6"/>
<line x1="428.9" y1="511.5" x2="428.9" y2="515.2" stroke="#1a1a1a" stroke-width="1.6"/>
<line x1="456.25" y1="524.3" x2="456.25" y2="531.6" stroke="#1a1a1a" stroke-width="1.6"/>
<line x1="451.65" y1="531.6" x2="460.85" y2="531.6" stroke="#1a1a1a" stroke-width="1.6"/>
<rect x="448.05" y="403.4" width="16.4" height="120.89999999999998" fill="#808080" stroke="#1a1a1a" stroke-width="1.6"/>
<line x1="456.25" y1="524.3" x2="456.25" y2="531.6" stroke="#1a1a1a" stroke-width="1.6"/>
<line x1="483.59999999999997" y1="506" x2="483.59999999999997" y2="511.5" stroke="#fa2323" stroke-width="1.6"/>
<line x1="478.99999999999994" y1="511.5" x2="488.2" y2="511.5" stroke="#fa2323" stroke-width="1.6"/>
<rect x="475.4" y="403.4" width="16.4" height="102.60000000000002" fill="#f29aa2" stroke="#fa2323" stroke-width="1.6"/>
<line x1="483.59999999999997" y1="506" x2="483.59999999999997" y2="511.5" stroke="#fa2323" stroke-width="1.6"/>
<line x1="510.95" y1="514" x2="510.95" y2="519.5" stroke="#fa2323" stroke-width="1.6"/>
<line x1="506.34999999999997" y1="519.5" x2="515.55" y2="519.5" stroke="#fa2323" stroke-width="1.6"/>
<rect x="502.75" y="403.4" width="16.4" height="110.60000000000002" fill="#f29aa2" stroke="#fa2323" stroke-width="1.6"/>
<line x1="510.95" y1="514" x2="510.95" y2="519.5" stroke="#fa2323" stroke-width="1.6"/>
<line x1="538.3" y1="516.9" x2="538.3" y2="524.3" stroke="#8c8c8c" stroke-width="1.6"/>
<line x1="533.6999999999999" y1="524.3" x2="542.9" y2="524.3" stroke="#8c8c8c" stroke-width="1.6"/>
<rect x="530.0999999999999" y="403.4" width="16.4" height="113.5" fill="#d5d5d5" stroke="#8c8c8c" stroke-width="1.6"/>
<line x1="538.3" y1="516.9" x2="538.3" y2="524.3" stroke="#8c8c8c" stroke-width="1.6"/>
<line x1="565.65" y1="517.1" x2="565.65" y2="523.6" stroke="#8c8c8c" stroke-width="1.6"/>
<line x1="561.05" y1="523.6" x2="570.25" y2="523.6" stroke="#8c8c8c" stroke-width="1.6"/>
<rect x="557.4499999999999" y="403.4" width="16.4" height="113.70000000000005" fill="#d5d5d5" stroke="#8c8c8c" stroke-width="1.6"/>
<line x1="565.65" y1="517.1" x2="565.65" y2="523.6" stroke="#8c8c8c" stroke-width="1.6"/>
<line x1="593.0" y1="491" x2="593.0" y2="495.9" stroke="#2f55a8" stroke-width="1.6"/>
<line x1="588.4" y1="495.9" x2="597.6" y2="495.9" stroke="#2f55a8" stroke-width="1.6"/>
<rect x="584.8" y="403.4" width="16.4" height="87.60000000000002" fill="#96c3f5" stroke="#2f55a8" stroke-width="1.6"/>
<line x1="593.0" y1="491" x2="593.0" y2="495.9" stroke="#2f55a8" stroke-width="1.6"/>
<line x1="620.35" y1="491.8" x2="620.35" y2="495.9" stroke="#2f55a8" stroke-width="1.6"/>
<line x1="615.75" y1="495.9" x2="624.95" y2="495.9" stroke="#2f55a8" stroke-width="1.6"/>
<rect x="612.15" y="403.4" width="16.4" height="88.40000000000003" fill="#96c3f5" stroke="#2f55a8" stroke-width="1.6"/>
<line x1="620.35" y1="491.8" x2="620.35" y2="495.9" stroke="#2f55a8" stroke-width="1.6"/>
<line x1="428.9" y1="504.8" x2="456.25" y2="514" stroke="#1a1a1a" stroke-width="0.7"/>
<line x1="428.9" y1="507.2" x2="456.25" y2="521.2" stroke="#1a1a1a" stroke-width="0.7"/>
<line x1="428.9" y1="511.5" x2="456.25" y2="522.9" stroke="#1a1a1a" stroke-width="0.7"/>
<line x1="428.9" y1="513.2" x2="456.25" y2="527.2" stroke="#1a1a1a" stroke-width="0.7"/>
<line x1="428.9" y1="523.6" x2="456.25" y2="553.8" stroke="#1a1a1a" stroke-width="0.7"/>
<circle cx="428.9" cy="504.8" r="1.75" fill="#000"/>
<circle cx="428.9" cy="507.2" r="1.75" fill="#000"/>
<circle cx="428.9" cy="511.5" r="1.75" fill="#000"/>
<circle cx="428.9" cy="513.2" r="1.75" fill="#000"/>
<circle cx="428.9" cy="523.6" r="1.75" fill="#000"/>
<circle cx="456.25" cy="514" r="1.75" fill="#000"/>
<circle cx="456.25" cy="521.2" r="1.75" fill="#000"/>
<circle cx="456.25" cy="522.9" r="1.75" fill="#000"/>
<circle cx="456.25" cy="527.2" r="1.75" fill="#000"/>
<circle cx="456.25" cy="553.8" r="1.75" fill="#000"/>
<line x1="483.59999999999997" y1="495.9" x2="510.95" y2="502.4" stroke="#1a1a1a" stroke-width="0.7"/>
<line x1="483.59999999999997" y1="497.8" x2="510.95" y2="510.3" stroke="#1a1a1a" stroke-width="0.7"/>
<line x1="483.59999999999997" y1="500.7" x2="510.95" y2="510.3" stroke="#1a1a1a" stroke-width="0.7"/>
<line x1="483.59999999999997" y1="513.5" x2="510.95" y2="520" stroke="#1a1a1a" stroke-width="0.7"/>
<line x1="483.59999999999997" y1="522.9" x2="510.95" y2="528.4" stroke="#1a1a1a" stroke-width="0.7"/>
<circle cx="483.59999999999997" cy="495.9" r="1.75" fill="#000"/>
<circle cx="483.59999999999997" cy="497.8" r="1.75" fill="#000"/>
<circle cx="483.59999999999997" cy="500.7" r="1.75" fill="#000"/>
<circle cx="483.59999999999997" cy="513.5" r="1.75" fill="#000"/>
<circle cx="483.59999999999997" cy="522.9" r="1.75" fill="#000"/>
<circle cx="510.95" cy="502.4" r="1.75" fill="#000"/>
<circle cx="510.95" cy="510.3" r="1.75" fill="#000"/>
<circle cx="510.95" cy="520" r="1.75" fill="#000"/>
<circle cx="510.95" cy="528.4" r="1.75" fill="#000"/>
<line x1="538.3" y1="497" x2="565.65" y2="504.8" stroke="#1a1a1a" stroke-width="0.7"/>
<line x1="538.3" y1="512.3" x2="565.65" y2="512.8" stroke="#1a1a1a" stroke-width="0.7"/>
<line x1="538.3" y1="516.4" x2="565.65" y2="512.8" stroke="#1a1a1a" stroke-width="0.7"/>
<line x1="538.3" y1="529.6" x2="565.65" y2="524.3" stroke="#1a1a1a" stroke-width="0.7"/>
<line x1="538.3" y1="533.8" x2="565.65" y2="535.2" stroke="#1a1a1a" stroke-width="0.7"/>
<circle cx="538.3" cy="497" r="1.75" fill="#000"/>
<circle cx="538.3" cy="512.3" r="1.75" fill="#000"/>
<circle cx="538.3" cy="516.4" r="1.75" fill="#000"/>
<circle cx="538.3" cy="529.6" r="1.75" fill="#000"/>
<circle cx="538.3" cy="533.8" r="1.75" fill="#000"/>
<circle cx="565.65" cy="504.8" r="1.75" fill="#000"/>
<circle cx="565.65" cy="512.8" r="1.75" fill="#000"/>
<circle cx="565.65" cy="524.3" r="1.75" fill="#000"/>
<circle cx="565.65" cy="535.2" r="1.75" fill="#000"/>
<line x1="593.0" y1="479.7" x2="620.35" y2="483.3" stroke="#1a1a1a" stroke-width="0.7"/>
<line x1="593.0" y1="490.3" x2="620.35" y2="490.1" stroke="#1a1a1a" stroke-width="0.7"/>
<line x1="593.0" y1="495.9" x2="620.35" y2="495.9" stroke="#1a1a1a" stroke-width="0.7"/>
<line x1="593.0" y1="497.5" x2="620.35" y2="497.5" stroke="#1a1a1a" stroke-width="0.7"/>
<line x1="593.0" y1="499" x2="620.35" y2="499" stroke="#1a1a1a" stroke-width="0.7"/>
<circle cx="593.0" cy="479.7" r="1.75" fill="#000"/>
<circle cx="593.0" cy="490.3" r="1.75" fill="#000"/>
<circle cx="593.0" cy="495.9" r="1.75" fill="#000"/>
<circle cx="593.0" cy="497.5" r="1.75" fill="#000"/>
<circle cx="593.0" cy="499" r="1.75" fill="#000"/>
<circle cx="620.35" cy="483.3" r="1.75" fill="#000"/>
<circle cx="620.35" cy="490.1" r="1.75" fill="#000"/>
<circle cx="620.35" cy="495.9" r="1.75" fill="#000"/>
<circle cx="620.35" cy="497.5" r="1.75" fill="#000"/>
<circle cx="620.35" cy="499" r="1.75" fill="#000"/>
<line x1="410.3" y1="401.2" x2="410.3" y2="557.5" stroke="#1a1a1a" stroke-width="1.3"/>
<line x1="410.3" y1="403.4" x2="639" y2="403.4" stroke="#1a1a1a" stroke-width="1.3"/>
<line x1="404.3" y1="403.4" x2="410.3" y2="403.4" stroke="#1a1a1a" stroke-width="1.3"/>
<text x="402.3" y="407.29999999999995" font-size="11" font-weight="bold" text-anchor="end" fill="#000" >0</text>
<line x1="404.3" y1="441.5" x2="410.3" y2="441.5" stroke="#1a1a1a" stroke-width="1.3"/>
<text x="402.3" y="445.4" font-size="11" font-weight="bold" text-anchor="end" fill="#000" >-1</text>
<line x1="404.3" y1="479.5" x2="410.3" y2="479.5" stroke="#1a1a1a" stroke-width="1.3"/>
<text x="402.3" y="483.4" font-size="11" font-weight="bold" text-anchor="end" fill="#000" >-2</text>
<line x1="404.3" y1="517.6" x2="410.3" y2="517.6" stroke="#1a1a1a" stroke-width="1.3"/>
<text x="402.3" y="521.5" font-size="11" font-weight="bold" text-anchor="end" fill="#000" >-3</text>
<line x1="404.3" y1="555.7" x2="410.3" y2="555.7" stroke="#1a1a1a" stroke-width="1.3"/>
<text x="402.3" y="559.6" font-size="11" font-weight="bold" text-anchor="end" fill="#000" >-4</text>
<text x="428.9" y="399.5" font-size="11" font-weight="bold" text-anchor="middle" fill="#000" >Pre</text>
<text x="456.25" y="399.5" font-size="11" font-weight="bold" text-anchor="middle" fill="#000" >CAR</text>
<text x="483.59999999999997" y="399.5" font-size="11" font-weight="bold" text-anchor="middle" fill="#000" >Pre</text>
<text x="510.95" y="399.5" font-size="11" font-weight="bold" text-anchor="middle" fill="#000" >OM</text>
<text x="538.3" y="399.5" font-size="11" font-weight="bold" text-anchor="middle" fill="#000" >Pre</text>
<text x="565.65" y="399.5" font-size="11" font-weight="bold" text-anchor="middle" fill="#000" >DMPP</text>
<text x="593.0" y="399.5" font-size="11" font-weight="bold" text-anchor="middle" fill="#000" >Pre</text>
<text x="620.35" y="399.5" font-size="11" font-weight="bold" text-anchor="middle" fill="#000" >PBS</text>
<text transform="translate(383.3,480) rotate(-90)" x="0" y="0" font-size="11.5" font-weight="bold" text-anchor="middle" fill="#000" textLength="44.5" lengthAdjust="spacingAndGlyphs" xml:space="preserve">Entropy</text>
<line x1="427" y1="562.4" x2="456.2" y2="562.4" stroke="#1a1a1a" stroke-width="1.1"/>
<text x="440" y="577.3" font-size="17" font-weight="bold" text-anchor="middle" fill="#000" >*</text>
<line x1="479.1" y1="562.4" x2="508" y2="562.4" stroke="#1a1a1a" stroke-width="1.1"/>
<text x="494.2" y="577.3" font-size="17" font-weight="bold" text-anchor="middle" fill="#000" >*</text>
<line x1="94.0" y1="679.6" x2="94.0" y2="672.5" stroke="#1a1a1a" stroke-width="1.6"/>
<line x1="89.4" y1="672.5" x2="98.6" y2="672.5" stroke="#1a1a1a" stroke-width="1.6"/>
<rect x="85.5" y="679.6" width="17" height="88.60000000000002" fill="#808080" stroke="#1a1a1a" stroke-width="1.6"/>
<line x1="121.47" y1="680.1" x2="121.47" y2="674" stroke="#1a1a1a" stroke-width="1.6"/>
<line x1="116.87" y1="674" x2="126.07" y2="674" stroke="#1a1a1a" stroke-width="1.6"/>
<rect x="112.97" y="680.1" width="17" height="88.10000000000002" fill="#808080" stroke="#1a1a1a" stroke-width="1.6"/>
<line x1="148.94" y1="680.4" x2="148.94" y2="673.4" stroke="#fa2323" stroke-width="1.6"/>
<line x1="144.34" y1="673.4" x2="153.54" y2="673.4" stroke="#fa2323" stroke-width="1.6"/>
<rect x="140.44" y="680.4" width="17" height="87.80000000000007" fill="#f29aa2" stroke="#fa2323" stroke-width="1.6"/>
<line x1="176.41" y1="678.7" x2="176.41" y2="670.4" stroke="#fa2323" stroke-width="1.6"/>
<line x1="171.81" y1="670.4" x2="181.01" y2="670.4" stroke="#fa2323" stroke-width="1.6"/>
<rect x="167.91" y="678.7" width="17" height="89.5" fill="#f29aa2" stroke="#fa2323" stroke-width="1.6"/>
<line x1="203.88" y1="671.3" x2="203.88" y2="657.8" stroke="#8c8c8c" stroke-width="1.6"/>
<line x1="199.28" y1="657.8" x2="208.48" y2="657.8" stroke="#8c8c8c" stroke-width="1.6"/>
<rect x="195.38" y="671.3" width="17" height="96.90000000000009" fill="#d5d5d5" stroke="#8c8c8c" stroke-width="1.6"/>
<line x1="231.35" y1="671.3" x2="231.35" y2="657.8" stroke="#8c8c8c" stroke-width="1.6"/>
<line x1="226.75" y1="657.8" x2="235.95" y2="657.8" stroke="#8c8c8c" stroke-width="1.6"/>
<rect x="222.85" y="671.3" width="17" height="96.90000000000009" fill="#d5d5d5" stroke="#8c8c8c" stroke-width="1.6"/>
<line x1="258.82" y1="666.2" x2="258.82" y2="657.8" stroke="#2f55a8" stroke-width="1.6"/>
<line x1="254.22" y1="657.8" x2="263.42" y2="657.8" stroke="#2f55a8" stroke-width="1.6"/>
<rect x="250.32" y="666.2" width="17" height="102.0" fill="#96c3f5" stroke="#2f55a8" stroke-width="1.6"/>
<line x1="286.28999999999996" y1="666" x2="286.28999999999996" y2="656.4" stroke="#2f55a8" stroke-width="1.6"/>
<line x1="281.68999999999994" y1="656.4" x2="290.89" y2="656.4" stroke="#2f55a8" stroke-width="1.6"/>
<rect x="277.78999999999996" y="666" width="17" height="102.20000000000005" fill="#96c3f5" stroke="#2f55a8" stroke-width="1.6"/>
<line x1="94.0" y1="663.1" x2="121.47" y2="665.7" stroke="#1a1a1a" stroke-width="0.7"/>
<line x1="94.0" y1="672.2" x2="121.47" y2="673.1" stroke="#1a1a1a" stroke-width="0.7"/>
<line x1="94.0" y1="674" x2="121.47" y2="678.3" stroke="#1a1a1a" stroke-width="0.7"/>
<line x1="94.0" y1="676" x2="121.47" y2="675.7" stroke="#1a1a1a" stroke-width="0.7"/>
<line x1="94.0" y1="678" x2="121.47" y2="681" stroke="#1a1a1a" stroke-width="0.7"/>
<line x1="94.0" y1="704.6" x2="121.47" y2="701.1" stroke="#1a1a1a" stroke-width="0.7"/>
<circle cx="94.0" cy="663.1" r="1.75" fill="#000"/>
<circle cx="94.0" cy="672.2" r="1.75" fill="#000"/>
<circle cx="94.0" cy="674" r="1.75" fill="#000"/>
<circle cx="94.0" cy="676" r="1.75" fill="#000"/>
<circle cx="94.0" cy="678" r="1.75" fill="#000"/>
<circle cx="94.0" cy="704.6" r="1.75" fill="#000"/>
<circle cx="121.47" cy="665.7" r="1.75" fill="#000"/>
<circle cx="121.47" cy="671.3" r="1.75" fill="#000"/>
<circle cx="121.47" cy="673.1" r="1.75" fill="#000"/>
<circle cx="121.47" cy="675.7" r="1.75" fill="#000"/>
<circle cx="121.47" cy="678.3" r="1.75" fill="#000"/>
<circle cx="121.47" cy="681" r="1.75" fill="#000"/>
<circle cx="121.47" cy="701.1" r="1.75" fill="#000"/>
<line x1="148.94" y1="658.2" x2="176.41" y2="655.2" stroke="#1a1a1a" stroke-width="0.7"/>
<line x1="148.94" y1="671.3" x2="176.41" y2="664.3" stroke="#1a1a1a" stroke-width="0.7"/>
<line x1="148.94" y1="675.7" x2="176.41" y2="667.8" stroke="#1a1a1a" stroke-width="0.7"/>
<line x1="148.94" y1="677.4" x2="176.41" y2="684.5" stroke="#1a1a1a" stroke-width="0.7"/>
<line x1="148.94" y1="694.1" x2="176.41" y2="696.7" stroke="#1a1a1a" stroke-width="0.7"/>
<line x1="148.94" y1="696.4" x2="176.41" y2="697.6" stroke="#1a1a1a" stroke-width="0.7"/>
<circle cx="148.94" cy="658.2" r="1.75" fill="#000"/>
<circle cx="148.94" cy="671.3" r="1.75" fill="#000"/>
<circle cx="148.94" cy="675.7" r="1.75" fill="#000"/>
<circle cx="148.94" cy="677.4" r="1.75" fill="#000"/>
<circle cx="148.94" cy="694.1" r="1.75" fill="#000"/>
<circle cx="148.94" cy="696.4" r="1.75" fill="#000"/>
<circle cx="176.41" cy="655.2" r="1.75" fill="#000"/>
<circle cx="176.41" cy="664.3" r="1.75" fill="#000"/>
<circle cx="176.41" cy="667.8" r="1.75" fill="#000"/>
<circle cx="176.41" cy="684.5" r="1.75" fill="#000"/>
<circle cx="176.41" cy="696.7" r="1.75" fill="#000"/>
<circle cx="176.41" cy="697.6" r="1.75" fill="#000"/>
<line x1="203.88" y1="627.2" x2="231.35" y2="626.6" stroke="#1a1a1a" stroke-width="0.7"/>
<line x1="203.88" y1="659.9" x2="231.35" y2="664.7" stroke="#1a1a1a" stroke-width="0.7"/>
<line x1="203.88" y1="679.6" x2="231.35" y2="674.8" stroke="#1a1a1a" stroke-width="0.7"/>
<line x1="203.88" y1="691.1" x2="231.35" y2="690.9" stroke="#1a1a1a" stroke-width="0.7"/>
<line x1="203.88" y1="692.7" x2="231.35" y2="693.4" stroke="#1a1a1a" stroke-width="0.7"/>
<circle cx="203.88" cy="627.2" r="1.75" fill="#000"/>
<circle cx="203.88" cy="659.9" r="1.75" fill="#000"/>
<circle cx="203.88" cy="679.6" r="1.75" fill="#000"/>
<circle cx="203.88" cy="691.1" r="1.75" fill="#000"/>
<circle cx="203.88" cy="692.7" r="1.75" fill="#000"/>
<circle cx="231.35" cy="626.6" r="1.75" fill="#000"/>
<circle cx="231.35" cy="664.7" r="1.75" fill="#000"/>
<circle cx="231.35" cy="674.8" r="1.75" fill="#000"/>
<circle cx="231.35" cy="690.9" r="1.75" fill="#000"/>
<circle cx="231.35" cy="693.4" r="1.75" fill="#000"/>
<line x1="258.82" y1="649.4" x2="286.28999999999996" y2="652.9" stroke="#1a1a1a" stroke-width="0.7"/>
<line x1="258.82" y1="651.7" x2="286.28999999999996" y2="646.3" stroke="#1a1a1a" stroke-width="0.7"/>
<line x1="258.82" y1="663.1" x2="286.28999999999996" y2="657.7" stroke="#1a1a1a" stroke-width="0.7"/>
<line x1="258.82" y1="672.2" x2="286.28999999999996" y2="676.6" stroke="#1a1a1a" stroke-width="0.7"/>
<line x1="258.82" y1="688.8" x2="286.28999999999996" y2="690.9" stroke="#1a1a1a" stroke-width="0.7"/>
<circle cx="258.82" cy="649.4" r="1.75" fill="#000"/>
<circle cx="258.82" cy="651.7" r="1.75" fill="#000"/>
<circle cx="258.82" cy="663.1" r="1.75" fill="#000"/>
<circle cx="258.82" cy="672.2" r="1.75" fill="#000"/>
<circle cx="258.82" cy="688.8" r="1.75" fill="#000"/>
<circle cx="286.28999999999996" cy="646.3" r="1.75" fill="#000"/>
<circle cx="286.28999999999996" cy="652.9" r="1.75" fill="#000"/>
<circle cx="286.28999999999996" cy="657.7" r="1.75" fill="#000"/>
<circle cx="286.28999999999996" cy="676.6" r="1.75" fill="#000"/>
<circle cx="286.28999999999996" cy="690.9" r="1.75" fill="#000"/>
<line x1="75.8" y1="615" x2="75.8" y2="768.2" stroke="#1a1a1a" stroke-width="1.3"/>
<line x1="75.8" y1="768.2" x2="305" y2="768.2" stroke="#1a1a1a" stroke-width="1.3"/>
<line x1="69.8" y1="615" x2="75.8" y2="615" stroke="#1a1a1a" stroke-width="1.3"/>
<text x="67.8" y="618.9" font-size="11" font-weight="bold" text-anchor="end" fill="#000" >600</text>
<line x1="69.8" y1="666.3" x2="75.8" y2="666.3" stroke="#1a1a1a" stroke-width="1.3"/>
<text x="67.8" y="670.1999999999999" font-size="11" font-weight="bold" text-anchor="end" fill="#000" >400</text>
<line x1="69.8" y1="717.2" x2="75.8" y2="717.2" stroke="#1a1a1a" stroke-width="1.3"/>
<text x="67.8" y="721.1" font-size="11" font-weight="bold" text-anchor="end" fill="#000" >200</text>
<line x1="69.8" y1="768.2" x2="75.8" y2="768.2" stroke="#1a1a1a" stroke-width="1.3"/>
<text x="67.8" y="772.1" font-size="11" font-weight="bold" text-anchor="end" fill="#000" >0</text>
<line x1="94.0" y1="768.2" x2="94.0" y2="774.4000000000001" stroke="#1a1a1a" stroke-width="1.3"/>
<text x="94.0" y="786" font-size="11" font-weight="bold" text-anchor="middle" fill="#000" >Pre</text>
<line x1="121.47" y1="768.2" x2="121.47" y2="774.4000000000001" stroke="#1a1a1a" stroke-width="1.3"/>
<text x="121.47" y="786" font-size="11" font-weight="bold" text-anchor="middle" fill="#000" >CAR</text>
<line x1="148.94" y1="768.2" x2="148.94" y2="774.4000000000001" stroke="#1a1a1a" stroke-width="1.3"/>
<text x="148.94" y="786" font-size="11" font-weight="bold" text-anchor="middle" fill="#000" >Pre</text>
<line x1="176.41" y1="768.2" x2="176.41" y2="774.4000000000001" stroke="#1a1a1a" stroke-width="1.3"/>
<text x="176.41" y="786" font-size="11" font-weight="bold" text-anchor="middle" fill="#000" >OM</text>
<line x1="203.88" y1="768.2" x2="203.88" y2="774.4000000000001" stroke="#1a1a1a" stroke-width="1.3"/>
<text x="203.88" y="786" font-size="11" font-weight="bold" text-anchor="middle" fill="#000" >Pre</text>
<line x1="231.35" y1="768.2" x2="231.35" y2="774.4000000000001" stroke="#1a1a1a" stroke-width="1.3"/>
<text x="231.35" y="786" font-size="11" font-weight="bold" text-anchor="middle" fill="#000" >DMPP</text>
<line x1="258.82" y1="768.2" x2="258.82" y2="774.4000000000001" stroke="#1a1a1a" stroke-width="1.3"/>
<text x="258.82" y="786" font-size="11" font-weight="bold" text-anchor="middle" fill="#000" >Pre</text>
<line x1="286.28999999999996" y1="768.2" x2="286.28999999999996" y2="774.4000000000001" stroke="#1a1a1a" stroke-width="1.3"/>
<text x="286.28999999999996" y="786" font-size="11" font-weight="bold" text-anchor="middle" fill="#000" >PBS</text>
<text transform="translate(41.4,687.9) rotate(-90)" x="0" y="0" font-size="11.5" font-weight="bold" text-anchor="middle" fill="#000" textLength="171" lengthAdjust="spacingAndGlyphs" xml:space="preserve">Sum of  syllables  duration (ms)</text>
<line x1="428.2" y1="662.3" x2="428.2" y2="651.6" stroke="#1a1a1a" stroke-width="1.6"/>
<line x1="423.59999999999997" y1="651.6" x2="432.8" y2="651.6" stroke="#1a1a1a" stroke-width="1.6"/>
<rect x="419.7" y="662.3" width="17" height="105.30000000000007" fill="#808080" stroke="#1a1a1a" stroke-width="1.6"/>
<line x1="455.66999999999996" y1="669.6" x2="455.66999999999996" y2="659.6" stroke="#1a1a1a" stroke-width="1.6"/>
<line x1="451.06999999999994" y1="659.6" x2="460.27" y2="659.6" stroke="#1a1a1a" stroke-width="1.6"/>
<rect x="447.16999999999996" y="669.6" width="17" height="98.0" fill="#808080" stroke="#1a1a1a" stroke-width="1.6"/>
<line x1="483.14" y1="676.6" x2="483.14" y2="664" stroke="#fa2323" stroke-width="1.6"/>
<line x1="478.53999999999996" y1="664" x2="487.74" y2="664" stroke="#fa2323" stroke-width="1.6"/>
<rect x="474.64" y="676.6" width="17" height="91.0" fill="#f29aa2" stroke="#fa2323" stroke-width="1.6"/>
<line x1="510.61" y1="676.6" x2="510.61" y2="666.2" stroke="#fa2323" stroke-width="1.6"/>
<line x1="506.01" y1="666.2" x2="515.21" y2="666.2" stroke="#fa2323" stroke-width="1.6"/>
<rect x="502.11" y="676.6" width="17" height="91.0" fill="#f29aa2" stroke="#fa2323" stroke-width="1.6"/>
<line x1="538.0799999999999" y1="683.5" x2="538.0799999999999" y2="669.7" stroke="#8c8c8c" stroke-width="1.6"/>
<line x1="533.4799999999999" y1="669.7" x2="542.68" y2="669.7" stroke="#8c8c8c" stroke-width="1.6"/>
<rect x="529.5799999999999" y="683.5" width="17" height="84.10000000000002" fill="#d5d5d5" stroke="#8c8c8c" stroke-width="1.6"/>
<line x1="565.55" y1="684.5" x2="565.55" y2="669.7" stroke="#8c8c8c" stroke-width="1.6"/>
<line x1="560.9499999999999" y1="669.7" x2="570.15" y2="669.7" stroke="#8c8c8c" stroke-width="1.6"/>
<rect x="557.05" y="684.5" width="17" height="83.10000000000002" fill="#d5d5d5" stroke="#8c8c8c" stroke-width="1.6"/>
<line x1="593.02" y1="648.4" x2="593.02" y2="635.1" stroke="#2f55a8" stroke-width="1.6"/>
<line x1="588.42" y1="635.1" x2="597.62" y2="635.1" stroke="#2f55a8" stroke-width="1.6"/>
<rect x="584.52" y="648.4" width="17" height="119.20000000000005" fill="#96c3f5" stroke="#2f55a8" stroke-width="1.6"/>
<line x1="620.49" y1="649" x2="620.49" y2="635.1" stroke="#2f55a8" stroke-width="1.6"/>
<line x1="615.89" y1="635.1" x2="625.09" y2="635.1" stroke="#2f55a8" stroke-width="1.6"/>
<rect x="611.99" y="649" width="17" height="118.60000000000002" fill="#96c3f5" stroke="#2f55a8" stroke-width="1.6"/>
<line x1="428.2" y1="641.7" x2="455.66999999999996" y2="637.3" stroke="#1a1a1a" stroke-width="0.7"/>
<line x1="428.2" y1="639.4" x2="455.66999999999996" y2="646.8" stroke="#1a1a1a" stroke-width="0.7"/>
<line x1="428.2" y1="636.8" x2="455.66999999999996" y2="671.8" stroke="#1a1a1a" stroke-width="0.7"/>
<line x1="428.2" y1="671" x2="455.66999999999996" y2="675.3" stroke="#1a1a1a" stroke-width="0.7"/>
<line x1="428.2" y1="680.6" x2="455.66999999999996" y2="682.3" stroke="#1a1a1a" stroke-width="0.7"/>
<line x1="428.2" y1="694.6" x2="455.66999999999996" y2="695.5" stroke="#1a1a1a" stroke-width="0.7"/>
<circle cx="428.2" cy="636.8" r="1.75" fill="#000"/>
<circle cx="428.2" cy="639.4" r="1.75" fill="#000"/>
<circle cx="428.2" cy="641.7" r="1.75" fill="#000"/>
<circle cx="428.2" cy="643.4" r="1.75" fill="#000"/>
<circle cx="428.2" cy="671" r="1.75" fill="#000"/>
<circle cx="428.2" cy="680.6" r="1.75" fill="#000"/>
<circle cx="428.2" cy="694.6" r="1.75" fill="#000"/>
<circle cx="455.66999999999996" cy="637.3" r="1.75" fill="#000"/>
<circle cx="455.66999999999996" cy="646.8" r="1.75" fill="#000"/>
<circle cx="455.66999999999996" cy="671.8" r="1.75" fill="#000"/>
<circle cx="455.66999999999996" cy="675.3" r="1.75" fill="#000"/>
<circle cx="455.66999999999996" cy="682.3" r="1.75" fill="#000"/>
<circle cx="455.66999999999996" cy="695.5" r="1.75" fill="#000"/>
<line x1="483.14" y1="630.3" x2="510.61" y2="647" stroke="#1a1a1a" stroke-width="0.7"/>
<line x1="483.14" y1="655.2" x2="510.61" y2="648.2" stroke="#1a1a1a" stroke-width="0.7"/>
<line x1="483.14" y1="673.9" x2="510.61" y2="672.7" stroke="#1a1a1a" stroke-width="0.7"/>
<line x1="483.14" y1="684.1" x2="510.61" y2="691.4" stroke="#1a1a1a" stroke-width="0.7"/>
<line x1="483.14" y1="700.7" x2="510.61" y2="691.4" stroke="#1a1a1a" stroke-width="0.7"/>
<line x1="483.14" y1="706.9" x2="510.61" y2="701.6" stroke="#1a1a1a" stroke-width="0.7"/>
<circle cx="483.14" cy="630.3" r="1.75" fill="#000"/>
<circle cx="483.14" cy="655.2" r="1.75" fill="#000"/>
<circle cx="483.14" cy="673.9" r="1.75" fill="#000"/>
<circle cx="483.14" cy="684.1" r="1.75" fill="#000"/>
<circle cx="483.14" cy="700.7" r="1.75" fill="#000"/>
<circle cx="483.14" cy="706.9" r="1.75" fill="#000"/>
<circle cx="510.61" cy="646.4" r="1.75" fill="#000"/>
<circle cx="510.61" cy="648.2" r="1.75" fill="#000"/>
<circle cx="510.61" cy="672.7" r="1.75" fill="#000"/>
<circle cx="510.61" cy="691.4" r="1.75" fill="#000"/>
<circle cx="510.61" cy="701.6" r="1.75" fill="#000"/>
<line x1="538.0799999999999" y1="653.5" x2="565.55" y2="647.4" stroke="#1a1a1a" stroke-width="0.7"/>
<line x1="538.0799999999999" y1="654.5" x2="565.55" y2="653.3" stroke="#1a1a1a" stroke-width="0.7"/>
<line x1="538.0799999999999" y1="687.3" x2="565.55" y2="702.5" stroke="#1a1a1a" stroke-width="0.7"/>
<line x1="538.0799999999999" y1="693.4" x2="565.55" y2="692.4" stroke="#1a1a1a" stroke-width="0.7"/>
<line x1="538.0799999999999" y1="724.3" x2="565.55" y2="721.1" stroke="#1a1a1a" stroke-width="0.7"/>
<circle cx="538.0799999999999" cy="653.5" r="1.75" fill="#000"/>
<circle cx="538.0799999999999" cy="654.5" r="1.75" fill="#000"/>
<circle cx="538.0799999999999" cy="687.3" r="1.75" fill="#000"/>
<circle cx="538.0799999999999" cy="693.4" r="1.75" fill="#000"/>
<circle cx="538.0799999999999" cy="724.3" r="1.75" fill="#000"/>
<circle cx="565.55" cy="647.4" r="1.75" fill="#000"/>
<circle cx="565.55" cy="653.3" r="1.75" fill="#000"/>
<circle cx="565.55" cy="692.4" r="1.75" fill="#000"/>
<circle cx="565.55" cy="702.5" r="1.75" fill="#000"/>
<circle cx="565.55" cy="721.1" r="1.75" fill="#000"/>
<line x1="593.02" y1="625.6" x2="620.49" y2="639.9" stroke="#1a1a1a" stroke-width="0.7"/>
<line x1="593.02" y1="634.5" x2="620.49" y2="621.8" stroke="#1a1a1a" stroke-width="0.7"/>
<line x1="593.02" y1="638" x2="620.49" y2="644" stroke="#1a1a1a" stroke-width="0.7"/>
<line x1="593.02" y1="643.7" x2="620.49" y2="638" stroke="#1a1a1a" stroke-width="0.7"/>
<line x1="593.02" y1="695.3" x2="620.49" y2="697.4" stroke="#1a1a1a" stroke-width="0.7"/>
<circle cx="593.02" cy="625.6" r="1.75" fill="#000"/>
<circle cx="593.02" cy="634.5" r="1.75" fill="#000"/>
<circle cx="593.02" cy="638" r="1.75" fill="#000"/>
<circle cx="593.02" cy="643.7" r="1.75" fill="#000"/>
<circle cx="593.02" cy="695.3" r="1.75" fill="#000"/>
<circle cx="620.49" cy="621.8" r="1.75" fill="#000"/>
<circle cx="620.49" cy="638" r="1.75" fill="#000"/>
<circle cx="620.49" cy="639.9" r="1.75" fill="#000"/>
<circle cx="620.49" cy="644" r="1.75" fill="#000"/>
<circle cx="620.49" cy="697.4" r="1.75" fill="#000"/>
<line x1="410" y1="614.2" x2="410" y2="767.6" stroke="#1a1a1a" stroke-width="1.3"/>
<line x1="410" y1="767.6" x2="640" y2="767.6" stroke="#1a1a1a" stroke-width="1.3"/>
<line x1="404" y1="614.2" x2="410" y2="614.2" stroke="#1a1a1a" stroke-width="1.3"/>
<text x="402" y="618.1" font-size="11" font-weight="bold" text-anchor="end" fill="#000" >300</text>
<line x1="404" y1="665.5" x2="410" y2="665.5" stroke="#1a1a1a" stroke-width="1.3"/>
<text x="402" y="669.4" font-size="11" font-weight="bold" text-anchor="end" fill="#000" >200</text>
<line x1="404" y1="716.6" x2="410" y2="716.6" stroke="#1a1a1a" stroke-width="1.3"/>
<text x="402" y="720.5" font-size="11" font-weight="bold" text-anchor="end" fill="#000" >100</text>
<line x1="404" y1="767.6" x2="410" y2="767.6" stroke="#1a1a1a" stroke-width="1.3"/>
<text x="402" y="771.5" font-size="11" font-weight="bold" text-anchor="end" fill="#000" >0</text>
<line x1="428.2" y1="767.6" x2="428.2" y2="773.8000000000001" stroke="#1a1a1a" stroke-width="1.3"/>
<text x="428.2" y="785.5" font-size="11" font-weight="bold" text-anchor="middle" fill="#000" >Pre</text>
<line x1="455.66999999999996" y1="767.6" x2="455.66999999999996" y2="773.8000000000001" stroke="#1a1a1a" stroke-width="1.3"/>
<text x="455.66999999999996" y="785.5" font-size="11" font-weight="bold" text-anchor="middle" fill="#000" >CAR</text>
<line x1="483.14" y1="767.6" x2="483.14" y2="773.8000000000001" stroke="#1a1a1a" stroke-width="1.3"/>
<text x="483.14" y="785.5" font-size="11" font-weight="bold" text-anchor="middle" fill="#000" >Pre</text>
<line x1="510.61" y1="767.6" x2="510.61" y2="773.8000000000001" stroke="#1a1a1a" stroke-width="1.3"/>
<text x="510.61" y="785.5" font-size="11" font-weight="bold" text-anchor="middle" fill="#000" >OM</text>
<line x1="538.0799999999999" y1="767.6" x2="538.0799999999999" y2="773.8000000000001" stroke="#1a1a1a" stroke-width="1.3"/>
<text x="538.0799999999999" y="785.5" font-size="11" font-weight="bold" text-anchor="middle" fill="#000" >Pre</text>
<line x1="565.55" y1="767.6" x2="565.55" y2="773.8000000000001" stroke="#1a1a1a" stroke-width="1.3"/>
<text x="565.55" y="785.5" font-size="11" font-weight="bold" text-anchor="middle" fill="#000" >DMPP</text>
<line x1="593.02" y1="767.6" x2="593.02" y2="773.8000000000001" stroke="#1a1a1a" stroke-width="1.3"/>
<text x="593.02" y="785.5" font-size="11" font-weight="bold" text-anchor="middle" fill="#000" >Pre</text>
<line x1="620.49" y1="767.6" x2="620.49" y2="773.8000000000001" stroke="#1a1a1a" stroke-width="1.3"/>
<text x="620.49" y="785.5" font-size="11" font-weight="bold" text-anchor="middle" fill="#000" >PBS</text>
<text transform="translate(376,693.3) rotate(-90)" x="0" y="0" font-size="11.5" font-weight="bold" text-anchor="middle" fill="#000" textLength="148.6" lengthAdjust="spacingAndGlyphs" xml:space="preserve">Sum of gap durations (ms)</text>
</g></svg></body></html>
